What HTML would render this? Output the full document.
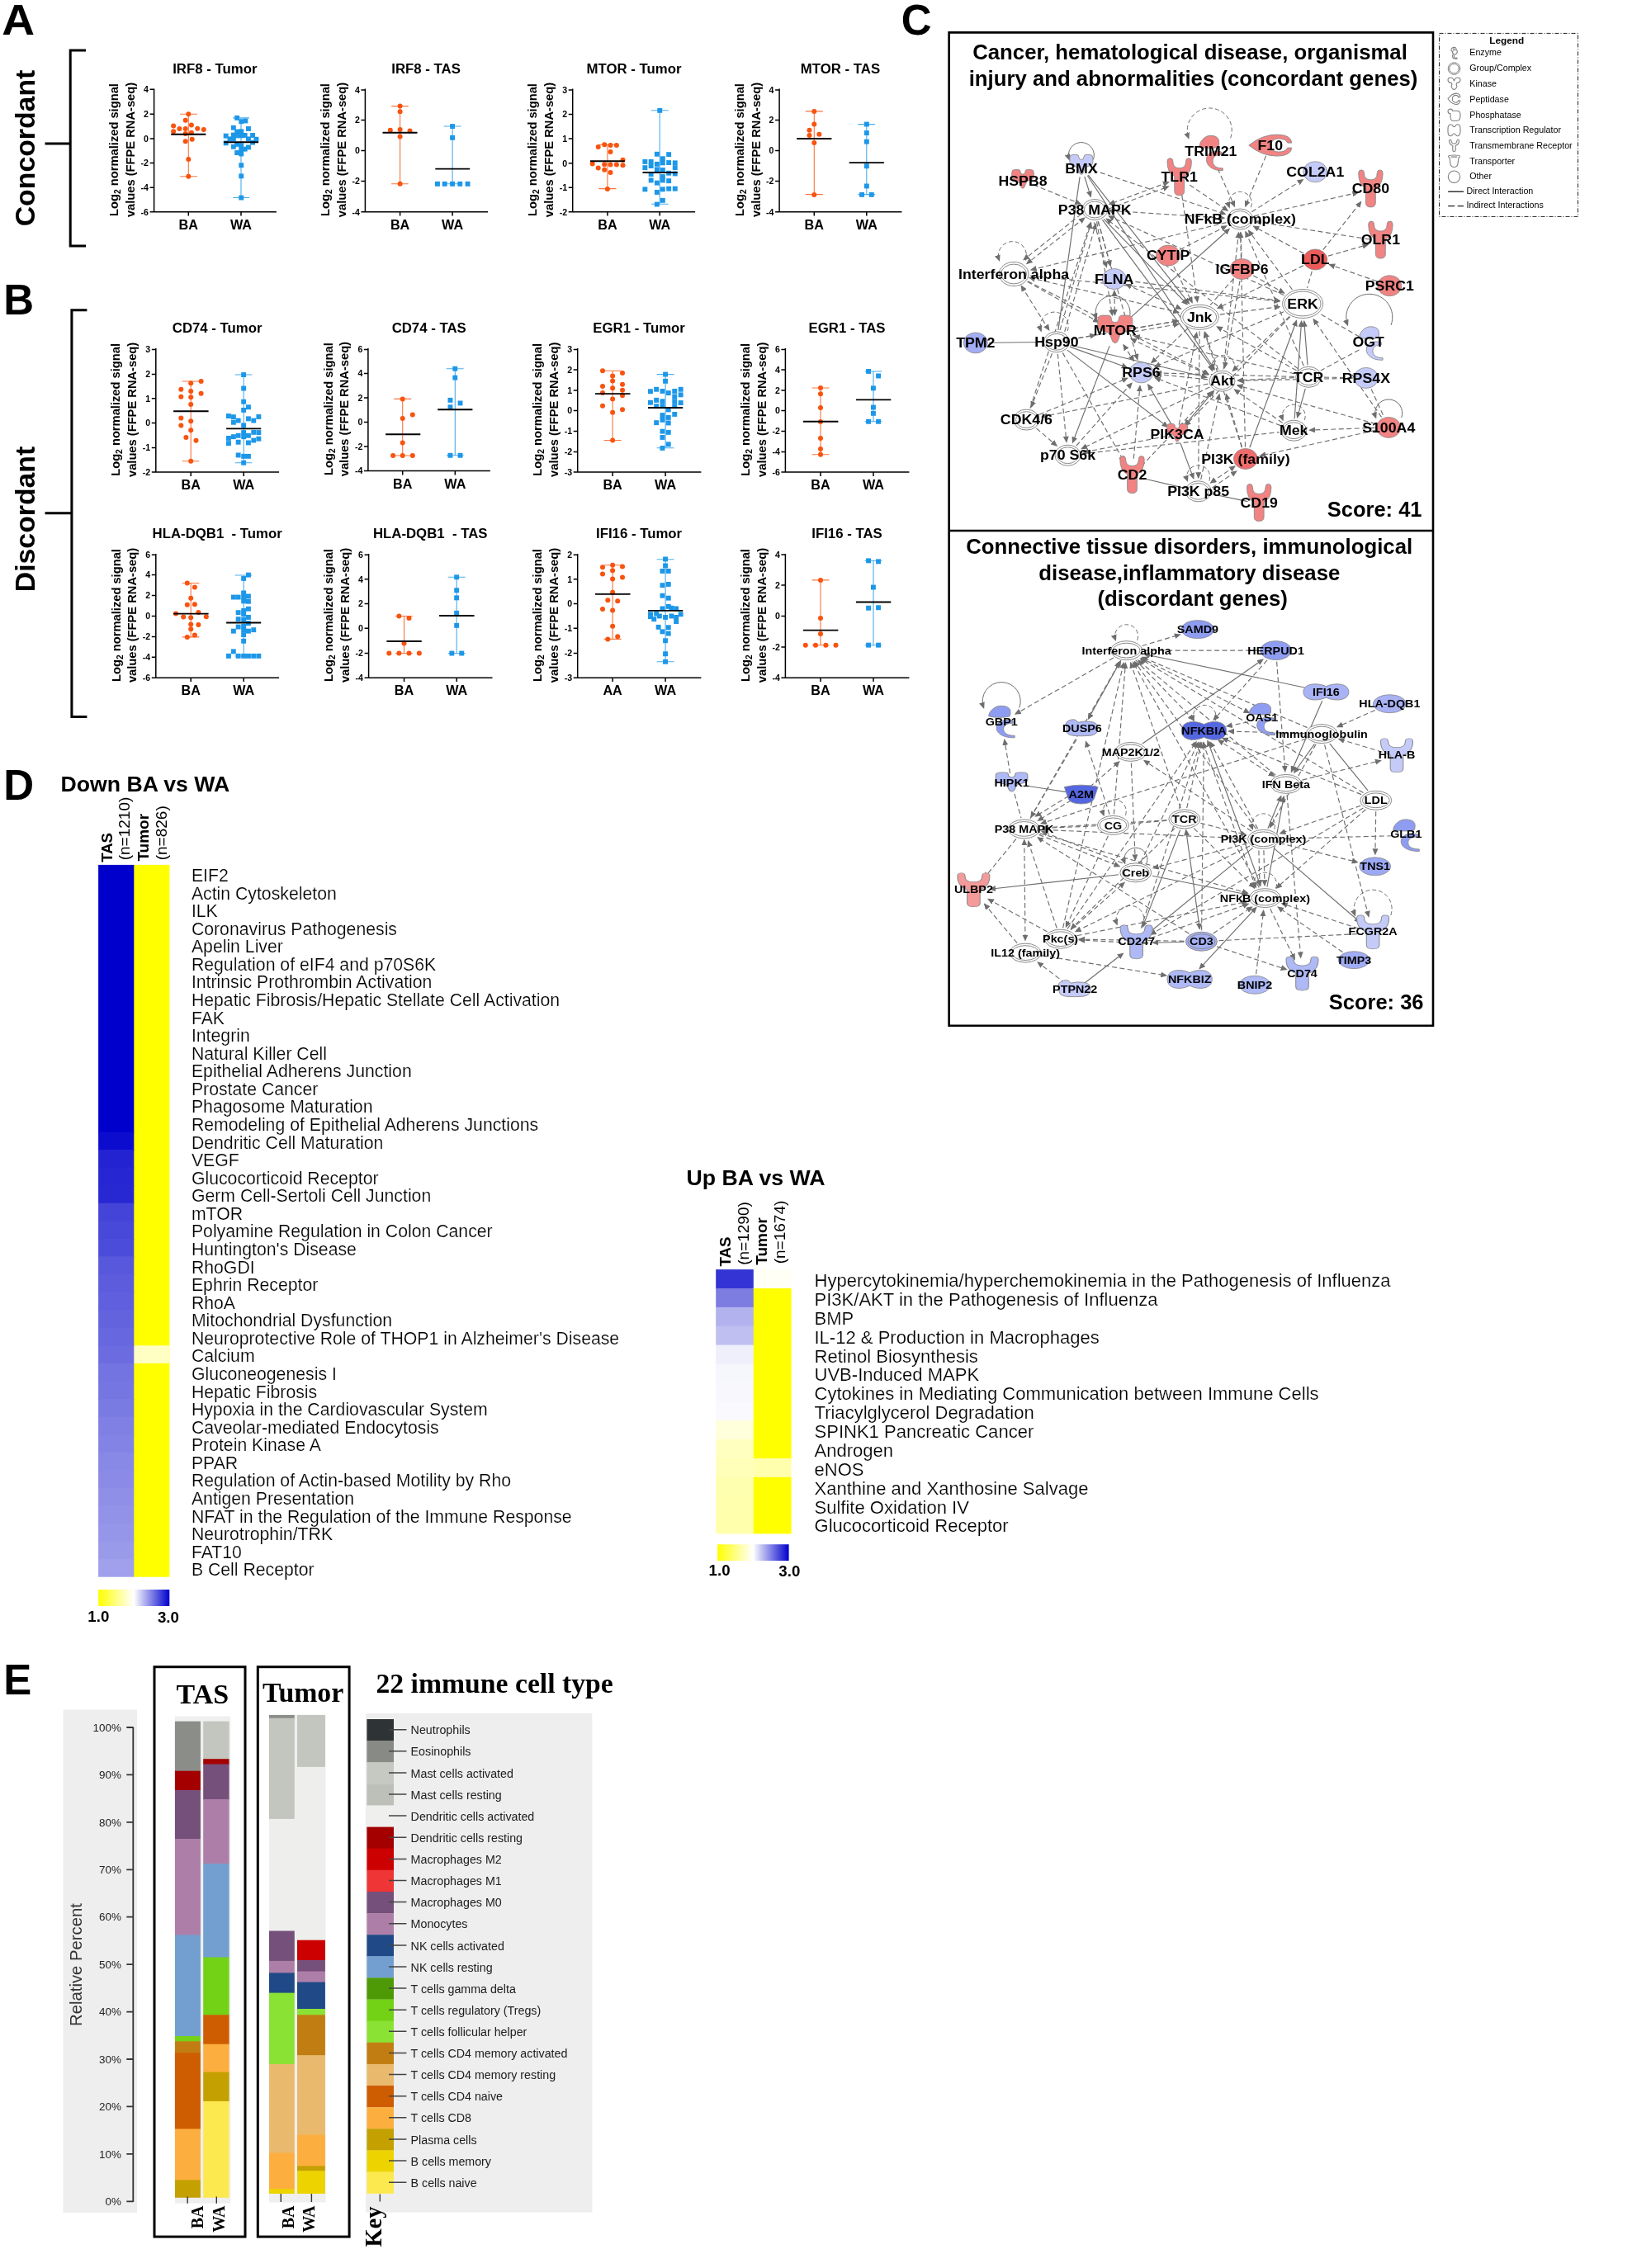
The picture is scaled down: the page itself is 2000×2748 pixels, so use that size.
<!DOCTYPE html>
<html lang="en"><head><meta charset="utf-8"><title>Figure</title>
<style>html,body{margin:0;padding:0;background:#fff}svg{display:block;will-change:transform}text{font-family:"Liberation Sans", Arial, Helvetica, sans-serif}text.sf{font-family:"Liberation Serif","Times New Roman",Times,serif}</style></head>
<body>
<svg width="2000" height="2748" viewBox="0 0 2000 2748">
<defs><linearGradient id="cb" x1="0" x2="1" y1="0" y2="0"><stop offset="0" stop-color="#FFFF00"/><stop offset="0.5" stop-color="#FFFFFF"/><stop offset="1" stop-color="#0000CD"/></linearGradient></defs>
<rect width="2000" height="2748" fill="#fff"/>
<g id="labels"><text transform="translate(2.2 41.8) scale(1.08 1.02)" font-size="51" font-weight="bold">A</text><text x="4.3" y="380.5" font-size="51" font-weight="bold">B</text><text x="1091.8" y="41.6" font-size="51" font-weight="bold">C</text><text x="4.3" y="968.7" font-size="51" font-weight="bold">D</text><text x="4.3" y="2052.9" font-size="51" font-weight="bold">E</text><path d="M104.1 61H85.2V298H104.1M54.5 174H85.2" fill="none" stroke="#000" stroke-width="3"/><path d="M105.4 375.8H86.9V868.6H105.4M54.5 621.8H86.9" fill="none" stroke="#000" stroke-width="3"/><text x="41.8" y="179.5" font-size="33.8" font-weight="bold" text-anchor="middle" transform="rotate(-90 41.8 179.5)">Concordant</text><text x="41.8" y="629" font-size="33.8" font-weight="bold" text-anchor="middle" transform="rotate(-90 41.8 629)">Discordant</text></g>
<g id="scatter"><text x="260.3" y="88.8" font-size="16.8" font-weight="bold" text-anchor="middle">IRF8 - Tumor</text><text x="143.3" y="181.5" font-size="14.7" font-weight="bold" text-anchor="middle" transform="rotate(-90 143.3 181.5)">Log<tspan font-size="10.3" dy="3">2</tspan><tspan dy="-3"> normalized signal</tspan></text><text x="163.2" y="181.5" font-size="14.7" font-weight="bold" text-anchor="middle" transform="rotate(-90 163.2 181.5)">values (FFPE RNA-seq)</text><g fill="#F8530F"><path d="M228.3 138.2V213.7M218.1 138.2H238.9M218.1 213.7H238.9" stroke="#F8530F" stroke-width="1.1" stroke-opacity="0.8" fill="none"/><circle cx="228.3" cy="138.2" r="3"/><circle cx="224.7" cy="145.8" r="3"/><circle cx="231.9" cy="151.6" r="3"/><circle cx="210.1" cy="152.6" r="3"/><circle cx="217.4" cy="155.9" r="3"/><circle cx="224.7" cy="155.9" r="3"/><circle cx="239.2" cy="155.7" r="3"/><circle cx="246.8" cy="157" r="3"/><circle cx="210.1" cy="159.3" r="3"/><circle cx="231.9" cy="160.7" r="3"/><circle cx="224.7" cy="162" r="3"/><circle cx="232.7" cy="168.7" r="3"/><circle cx="224.7" cy="171.2" r="3"/><circle cx="228.3" cy="193" r="3"/><circle cx="228.3" cy="213.7" r="3"/></g><path d="M207.2 162.8H249.4" stroke="#000" stroke-width="1.9"/><g fill="#1D97E8"><path d="M292 142.9V239.5M282.1 142.9H302M282.1 239.5H302" stroke="#1D97E8" stroke-width="1.1" stroke-opacity="0.8" fill="none"/><rect x="284.2" y="139.9" width="5.9" height="5.9"/><rect x="289.3" y="144.3" width="5.9" height="5.9"/><rect x="294.4" y="143.5" width="5.9" height="5.9"/><rect x="279.9" y="151.8" width="5.9" height="5.9"/><rect x="298" y="153" width="5.9" height="5.9"/><rect x="284.2" y="156.6" width="5.9" height="5.9"/><rect x="289.3" y="156.3" width="5.9" height="5.9"/><rect x="279.9" y="160.6" width="5.9" height="5.9"/><rect x="270.7" y="161.7" width="5.9" height="5.9"/><rect x="284.2" y="161.4" width="5.9" height="5.9"/><rect x="289.3" y="161.4" width="5.9" height="5.9"/><rect x="293.7" y="161" width="5.9" height="5.9"/><rect x="303.1" y="161" width="5.9" height="5.9"/><rect x="275.5" y="165.4" width="5.9" height="5.9"/><rect x="279.9" y="165.4" width="5.9" height="5.9"/><rect x="298" y="165.4" width="5.9" height="5.9"/><rect x="307.5" y="165.8" width="5.9" height="5.9"/><rect x="270.7" y="170.4" width="5.9" height="5.9"/><rect x="303.1" y="169.7" width="5.9" height="5.9"/><rect x="284.2" y="171.9" width="5.9" height="5.9"/><rect x="279.9" y="174.8" width="5.9" height="5.9"/><rect x="289.3" y="173.3" width="5.9" height="5.9"/><rect x="298" y="175.5" width="5.9" height="5.9"/><rect x="293.7" y="177.7" width="5.9" height="5.9"/><rect x="289.3" y="178.4" width="5.9" height="5.9"/><rect x="284.2" y="182.1" width="5.9" height="5.9"/><rect x="289.3" y="183.5" width="5.9" height="5.9"/><rect x="289.3" y="197.3" width="5.9" height="5.9"/><rect x="289.3" y="210.4" width="5.9" height="5.9"/><rect x="289.3" y="236.6" width="5.9" height="5.9"/></g><path d="M271.2 172.2H313.1" stroke="#000" stroke-width="1.9"/><path d="M186.6 107.6V256.7H334.9M181.6 108.3H186.6M181.6 138.2H186.6M181.6 167.9H186.6M181.6 197.5H186.6M181.6 227.2H186.6M181.6 256.7H186.6M228.3 256.7V261.5M292 256.7V261.5" stroke="#000" stroke-width="1.5" fill="none"/><text x="180" y="112.1" font-size="10.6" font-weight="bold" text-anchor="end">4</text><text x="180" y="142" font-size="10.6" font-weight="bold" text-anchor="end">2</text><text x="180" y="171.7" font-size="10.6" font-weight="bold" text-anchor="end">0</text><text x="180" y="201.3" font-size="10.6" font-weight="bold" text-anchor="end">-2</text><text x="180" y="231" font-size="10.6" font-weight="bold" text-anchor="end">-4</text><text x="180" y="260.5" font-size="10.6" font-weight="bold" text-anchor="end">-6</text><text x="228.3" y="277.7" font-size="16.2" font-weight="bold" text-anchor="middle">BA</text><text x="292" y="277.7" font-size="16.2" font-weight="bold" text-anchor="middle">WA</text>
<text x="516.1" y="88.8" font-size="16.8" font-weight="bold" text-anchor="middle">IRF8 - TAS</text><text x="399.1" y="181.5" font-size="14.7" font-weight="bold" text-anchor="middle" transform="rotate(-90 399.1 181.5)">Log<tspan font-size="10.3" dy="3">2</tspan><tspan dy="-3"> normalized signal</tspan></text><text x="419" y="181.5" font-size="14.7" font-weight="bold" text-anchor="middle" transform="rotate(-90 419 181.5)">values (FFPE RNA-seq)</text><g fill="#F8530F"><path d="M484.6 128.6V222.8M474.1 128.6H494.7M474.1 222.8H494.7" stroke="#F8530F" stroke-width="1.1" stroke-opacity="0.8" fill="none"/><circle cx="484.6" cy="128.6" r="3"/><circle cx="484.6" cy="135.3" r="3"/><circle cx="472.8" cy="157.7" r="3"/><circle cx="484.6" cy="157.1" r="3"/><circle cx="496.5" cy="158.6" r="3"/><circle cx="484.6" cy="165.4" r="3"/><circle cx="484.6" cy="222.8" r="3"/></g><path d="M463.5 160.7H505.5" stroke="#000" stroke-width="1.9"/><g fill="#1D97E8"><path d="M548.1 153V222.8M537.6 153H558.5M537.6 222.8H558.5" stroke="#1D97E8" stroke-width="1.1" stroke-opacity="0.8" fill="none"/><rect x="545.1" y="150.1" width="5.9" height="5.9"/><rect x="545.1" y="163.9" width="5.9" height="5.9"/><rect x="527" y="219.9" width="5.9" height="5.9"/><rect x="535.7" y="219.9" width="5.9" height="5.9"/><rect x="545.1" y="219.9" width="5.9" height="5.9"/><rect x="554.3" y="219.9" width="5.9" height="5.9"/><rect x="563.6" y="219.9" width="5.9" height="5.9"/></g><path d="M527.3 204.6H569.2" stroke="#000" stroke-width="1.9"/><path d="M442.4 107.6V256.7H591M437.4 109.1H442.4M437.4 145.5H442.4M437.4 182.5H442.4M437.4 219.6H442.4M437.4 256.7H442.4M484.6 256.7V261.5M548.1 256.7V261.5" stroke="#000" stroke-width="1.5" fill="none"/><text x="435.8" y="112.9" font-size="10.6" font-weight="bold" text-anchor="end">4</text><text x="435.8" y="149.3" font-size="10.6" font-weight="bold" text-anchor="end">2</text><text x="435.8" y="186.3" font-size="10.6" font-weight="bold" text-anchor="end">0</text><text x="435.8" y="223.4" font-size="10.6" font-weight="bold" text-anchor="end">-2</text><text x="435.8" y="260.5" font-size="10.6" font-weight="bold" text-anchor="end">-4</text><text x="484.6" y="277.7" font-size="16.2" font-weight="bold" text-anchor="middle">BA</text><text x="548.1" y="277.7" font-size="16.2" font-weight="bold" text-anchor="middle">WA</text>
<text x="768" y="88.8" font-size="16.8" font-weight="bold" text-anchor="middle">MTOR - Tumor</text><text x="650.4" y="181.5" font-size="14.7" font-weight="bold" text-anchor="middle" transform="rotate(-90 650.4 181.5)">Log<tspan font-size="10.3" dy="3">2</tspan><tspan dy="-3"> normalized signal</tspan></text><text x="670.3" y="181.5" font-size="14.7" font-weight="bold" text-anchor="middle" transform="rotate(-90 670.3 181.5)">values (FFPE RNA-seq)</text><g fill="#F8530F"><path d="M735.9 175.3V228.6M725.4 175.3H746.5M725.4 228.6H746.5" stroke="#F8530F" stroke-width="1.1" stroke-opacity="0.8" fill="none"/><circle cx="724.7" cy="178" r="3"/><circle cx="732.2" cy="175.3" r="3"/><circle cx="739.5" cy="176" r="3"/><circle cx="746.9" cy="175.9" r="3"/><circle cx="739.5" cy="184" r="3"/><circle cx="754.5" cy="193.7" r="3"/><circle cx="717.7" cy="198.5" r="3"/><circle cx="732.2" cy="199.3" r="3"/><circle cx="739.5" cy="199.6" r="3"/><circle cx="746.9" cy="199.6" r="3"/><circle cx="754.5" cy="200.3" r="3"/><circle cx="724.7" cy="203.5" r="3"/><circle cx="732.2" cy="205.8" r="3"/><circle cx="739.5" cy="209" r="3"/><circle cx="735.9" cy="228.9" r="3"/></g><path d="M714.9 195.2H756.9" stroke="#000" stroke-width="1.9"/><g fill="#1D97E8"><path d="M799.2 133.8V247.2M788.9 133.8H809.7M788.9 247.2H809.7" stroke="#1D97E8" stroke-width="1.1" stroke-opacity="0.8" fill="none"/><rect x="796.3" y="130.9" width="5.9" height="5.9"/><rect x="792.9" y="183.8" width="5.9" height="5.9"/><rect x="807.2" y="184.2" width="5.9" height="5.9"/><rect x="799.9" y="189.3" width="5.9" height="5.9"/><rect x="778.4" y="193" width="5.9" height="5.9"/><rect x="785.7" y="193" width="5.9" height="5.9"/><rect x="792.9" y="195.9" width="5.9" height="5.9"/><rect x="799.9" y="194.4" width="5.9" height="5.9"/><rect x="807.2" y="194.1" width="5.9" height="5.9"/><rect x="814.8" y="194.4" width="5.9" height="5.9"/><rect x="778.4" y="200.2" width="5.9" height="5.9"/><rect x="785.7" y="198.1" width="5.9" height="5.9"/><rect x="814.8" y="200.2" width="5.9" height="5.9"/><rect x="792.9" y="202.4" width="5.9" height="5.9"/><rect x="799.9" y="203.1" width="5.9" height="5.9"/><rect x="785.7" y="208.2" width="5.9" height="5.9"/><rect x="807.2" y="206.8" width="5.9" height="5.9"/><rect x="814.8" y="207.5" width="5.9" height="5.9"/><rect x="799.9" y="211.1" width="5.9" height="5.9"/><rect x="785.7" y="215.5" width="5.9" height="5.9"/><rect x="799.9" y="215.5" width="5.9" height="5.9"/><rect x="807.2" y="216.2" width="5.9" height="5.9"/><rect x="792.9" y="218.7" width="5.9" height="5.9"/><rect x="778.4" y="226.4" width="5.9" height="5.9"/><rect x="799.9" y="226.4" width="5.9" height="5.9"/><rect x="807.2" y="225.7" width="5.9" height="5.9"/><rect x="814.8" y="225.7" width="5.9" height="5.9"/><rect x="792.9" y="230" width="5.9" height="5.9"/><rect x="799.9" y="239.9" width="5.9" height="5.9"/><rect x="792.9" y="244.6" width="5.9" height="5.9"/></g><path d="M778.5 209H820.6" stroke="#000" stroke-width="1.9"/><path d="M693.7 107.6V256.7H842.1M688.7 109.1H693.7M688.7 138.5H693.7M688.7 168H693.7M688.7 197.7H693.7M688.7 227.2H693.7M688.7 256.7H693.7M735.9 256.7V261.5M799.2 256.7V261.5" stroke="#000" stroke-width="1.5" fill="none"/><text x="687.1" y="112.9" font-size="10.6" font-weight="bold" text-anchor="end">3</text><text x="687.1" y="142.3" font-size="10.6" font-weight="bold" text-anchor="end">2</text><text x="687.1" y="171.8" font-size="10.6" font-weight="bold" text-anchor="end">1</text><text x="687.1" y="201.5" font-size="10.6" font-weight="bold" text-anchor="end">0</text><text x="687.1" y="231" font-size="10.6" font-weight="bold" text-anchor="end">-1</text><text x="687.1" y="260.5" font-size="10.6" font-weight="bold" text-anchor="end">-2</text><text x="735.9" y="277.7" font-size="16.2" font-weight="bold" text-anchor="middle">BA</text><text x="799.2" y="277.7" font-size="16.2" font-weight="bold" text-anchor="middle">WA</text>
<text x="1018" y="88.8" font-size="16.8" font-weight="bold" text-anchor="middle">MTOR - TAS</text><text x="900.8" y="181.5" font-size="14.7" font-weight="bold" text-anchor="middle" transform="rotate(-90 900.8 181.5)">Log<tspan font-size="10.3" dy="3">2</tspan><tspan dy="-3"> normalized signal</tspan></text><text x="920.7" y="181.5" font-size="14.7" font-weight="bold" text-anchor="middle" transform="rotate(-90 920.7 181.5)">values (FFPE RNA-seq)</text><g fill="#F8530F"><path d="M986.3 134.9V235.6M975.8 134.9H996.8M975.8 235.6H996.8" stroke="#F8530F" stroke-width="1.1" stroke-opacity="0.8" fill="none"/><circle cx="986.3" cy="134.9" r="3"/><circle cx="986.3" cy="150.6" r="3"/><circle cx="980.5" cy="157.7" r="3"/><circle cx="980.5" cy="163.9" r="3"/><circle cx="992.4" cy="162.8" r="3"/><circle cx="986.3" cy="173.1" r="3"/><circle cx="986.3" cy="235.9" r="3"/></g><path d="M965.2 168H1007.4" stroke="#000" stroke-width="1.9"/><g fill="#1D97E8"><path d="M1049.8 150.6V235.6M1039.4 150.6H1060.1M1039.4 235.6H1060.1" stroke="#1D97E8" stroke-width="1.1" stroke-opacity="0.8" fill="none"/><rect x="1046.9" y="147.6" width="5.9" height="5.9"/><rect x="1046.9" y="158.1" width="5.9" height="5.9"/><rect x="1046.9" y="168.7" width="5.9" height="5.9"/><rect x="1046.9" y="198.3" width="5.9" height="5.9"/><rect x="1046.9" y="222.5" width="5.9" height="5.9"/><rect x="1041.1" y="232.9" width="5.9" height="5.9"/><rect x="1052.8" y="232.9" width="5.9" height="5.9"/></g><path d="M1028.7 197.1H1070.9" stroke="#000" stroke-width="1.9"/><path d="M944.1 107.6V256.7H1092.4M939.1 109.1H944.1M939.1 145.5H944.1M939.1 182.5H944.1M939.1 219.6H944.1M939.1 256.7H944.1M986.3 256.7V261.5M1049.8 256.7V261.5" stroke="#000" stroke-width="1.5" fill="none"/><text x="937.5" y="112.9" font-size="10.6" font-weight="bold" text-anchor="end">4</text><text x="937.5" y="149.3" font-size="10.6" font-weight="bold" text-anchor="end">2</text><text x="937.5" y="186.3" font-size="10.6" font-weight="bold" text-anchor="end">0</text><text x="937.5" y="223.4" font-size="10.6" font-weight="bold" text-anchor="end">-2</text><text x="937.5" y="260.5" font-size="10.6" font-weight="bold" text-anchor="end">-4</text><text x="986.3" y="277.7" font-size="16.2" font-weight="bold" text-anchor="middle">BA</text><text x="1049.8" y="277.7" font-size="16.2" font-weight="bold" text-anchor="middle">WA</text>
<text x="263.2" y="403.1" font-size="16.8" font-weight="bold" text-anchor="middle">CD74 - Tumor</text><text x="145.5" y="496.4" font-size="14.7" font-weight="bold" text-anchor="middle" transform="rotate(-90 145.5 496.4)">Log<tspan font-size="10.3" dy="3">2</tspan><tspan dy="-3"> normalized signal</tspan></text><text x="165.4" y="496.4" font-size="14.7" font-weight="bold" text-anchor="middle" transform="rotate(-90 165.4 496.4)">values (FFPE RNA-seq)</text><g fill="#F8530F"><path d="M231.2 462V558.7M220.7 462H241.4M220.7 558.7H241.4" stroke="#F8530F" stroke-width="1.1" stroke-opacity="0.8" fill="none"/><circle cx="243.6" cy="462" r="3"/><circle cx="231.2" cy="464.2" r="3"/><circle cx="219.3" cy="471.8" r="3"/><circle cx="231.2" cy="473.9" r="3"/><circle cx="243.6" cy="476.8" r="3"/><circle cx="219.3" cy="480.8" r="3"/><circle cx="231.2" cy="481.2" r="3"/><circle cx="231.2" cy="489.9" r="3"/><circle cx="219.3" cy="506.6" r="3"/><circle cx="231.2" cy="510.3" r="3"/><circle cx="219.3" cy="515.4" r="3"/><circle cx="231.2" cy="521.2" r="3"/><circle cx="225.4" cy="529.9" r="3"/><circle cx="237.5" cy="533.8" r="3"/><circle cx="231.2" cy="558.7" r="3"/></g><path d="M210.1 498.2H252.6" stroke="#000" stroke-width="1.9"/><g fill="#1D97E8"><path d="M295.2 454V560.7M284.6 454H305.3M284.6 560.7H305.3" stroke="#1D97E8" stroke-width="1.1" stroke-opacity="0.8" fill="none"/><rect x="292.2" y="451.1" width="5.9" height="5.9"/><rect x="292.2" y="467.6" width="5.9" height="5.9"/><rect x="292.2" y="483.8" width="5.9" height="5.9"/><rect x="298" y="490.3" width="5.9" height="5.9"/><rect x="292.2" y="494" width="5.9" height="5.9"/><rect x="274" y="501.1" width="5.9" height="5.9"/><rect x="279.9" y="502.2" width="5.9" height="5.9"/><rect x="310.4" y="502" width="5.9" height="5.9"/><rect x="285.7" y="506.6" width="5.9" height="5.9"/><rect x="298" y="504.4" width="5.9" height="5.9"/><rect x="304.3" y="506.6" width="5.9" height="5.9"/><rect x="279.9" y="508.8" width="5.9" height="5.9"/><rect x="292.2" y="512.4" width="5.9" height="5.9"/><rect x="292.2" y="521.1" width="5.9" height="5.9"/><rect x="304.3" y="520.9" width="5.9" height="5.9"/><rect x="310.4" y="521.1" width="5.9" height="5.9"/><rect x="285.7" y="524.8" width="5.9" height="5.9"/><rect x="298" y="524.8" width="5.9" height="5.9"/><rect x="274" y="528" width="5.9" height="5.9"/><rect x="279.9" y="526.2" width="5.9" height="5.9"/><rect x="292.2" y="526.2" width="5.9" height="5.9"/><rect x="310.4" y="528.7" width="5.9" height="5.9"/><rect x="304.3" y="530.6" width="5.9" height="5.9"/><rect x="285.7" y="532.8" width="5.9" height="5.9"/><rect x="298" y="533.5" width="5.9" height="5.9"/><rect x="274" y="534.2" width="5.9" height="5.9"/><rect x="285.7" y="548.5" width="5.9" height="5.9"/><rect x="292.2" y="549.9" width="5.9" height="5.9"/><rect x="298" y="549.9" width="5.9" height="5.9"/><rect x="292.2" y="557.8" width="5.9" height="5.9"/></g><path d="M274.1 519.4H316.2" stroke="#000" stroke-width="1.9"/><path d="M188.8 422.1V572.1H338.1M183.8 423.5H188.8M183.8 453.6H188.8M183.8 482.7H188.8M183.8 512.5H188.8M183.8 542.6H188.8M183.8 572.1H188.8M231.2 572.1V576.9M295.2 572.1V576.9" stroke="#000" stroke-width="1.5" fill="none"/><text x="182.2" y="427.3" font-size="10.6" font-weight="bold" text-anchor="end">3</text><text x="182.2" y="457.4" font-size="10.6" font-weight="bold" text-anchor="end">2</text><text x="182.2" y="486.5" font-size="10.6" font-weight="bold" text-anchor="end">1</text><text x="182.2" y="516.3" font-size="10.6" font-weight="bold" text-anchor="end">0</text><text x="182.2" y="546.4" font-size="10.6" font-weight="bold" text-anchor="end">-1</text><text x="182.2" y="575.9" font-size="10.6" font-weight="bold" text-anchor="end">-2</text><text x="231.2" y="593.1" font-size="16.2" font-weight="bold" text-anchor="middle">BA</text><text x="295.2" y="593.1" font-size="16.2" font-weight="bold" text-anchor="middle">WA</text>
<text x="519.7" y="402.7" font-size="16.8" font-weight="bold" text-anchor="middle">CD74 - TAS</text><text x="402.6" y="495.6" font-size="14.7" font-weight="bold" text-anchor="middle" transform="rotate(-90 402.6 495.6)">Log<tspan font-size="10.3" dy="3">2</tspan><tspan dy="-3"> normalized signal</tspan></text><text x="422.5" y="495.6" font-size="14.7" font-weight="bold" text-anchor="middle" transform="rotate(-90 422.5 495.6)">values (FFPE RNA-seq)</text><g fill="#F8530F"><path d="M487.7 483.4V552M477.3 483.4H498.2M477.3 552H498.2" stroke="#F8530F" stroke-width="1.1" stroke-opacity="0.8" fill="none"/><circle cx="487.7" cy="483.4" r="3"/><circle cx="499.8" cy="502.6" r="3"/><circle cx="487.7" cy="506.9" r="3"/><circle cx="487.7" cy="536.4" r="3"/><circle cx="476.1" cy="552" r="3"/><circle cx="487.7" cy="552" r="3"/><circle cx="499.8" cy="552" r="3"/></g><path d="M467.1 526.3H509.3" stroke="#000" stroke-width="1.9"/><g fill="#1D97E8"><path d="M551.3 446.8V551.7M540.8 446.8H561.6M540.8 551.7H561.6" stroke="#1D97E8" stroke-width="1.1" stroke-opacity="0.8" fill="none"/><rect x="548.3" y="443.8" width="5.9" height="5.9"/><rect x="548.3" y="454.7" width="5.9" height="5.9"/><rect x="542.5" y="481.9" width="5.9" height="5.9"/><rect x="554.6" y="485.5" width="5.9" height="5.9"/><rect x="542.5" y="490.3" width="5.9" height="5.9"/><rect x="542.5" y="548.8" width="5.9" height="5.9"/><rect x="554.6" y="548.8" width="5.9" height="5.9"/></g><path d="M530.2 496.2H572.4" stroke="#000" stroke-width="1.9"/><path d="M445.9 421.9V570.6H593.9M440.9 423.4H445.9M440.9 452.6H445.9M440.9 481.9H445.9M440.9 511.4H445.9M440.9 541.1H445.9M440.9 570.6H445.9M487.7 570.6V575.4M551.3 570.6V575.4" stroke="#000" stroke-width="1.5" fill="none"/><text x="439.3" y="427.2" font-size="10.6" font-weight="bold" text-anchor="end">6</text><text x="439.3" y="456.4" font-size="10.6" font-weight="bold" text-anchor="end">4</text><text x="439.3" y="485.7" font-size="10.6" font-weight="bold" text-anchor="end">2</text><text x="439.3" y="515.2" font-size="10.6" font-weight="bold" text-anchor="end">0</text><text x="439.3" y="544.9" font-size="10.6" font-weight="bold" text-anchor="end">-2</text><text x="439.3" y="574.4" font-size="10.6" font-weight="bold" text-anchor="end">-4</text><text x="487.7" y="591.6" font-size="16.2" font-weight="bold" text-anchor="middle">BA</text><text x="551.3" y="591.6" font-size="16.2" font-weight="bold" text-anchor="middle">WA</text>
<text x="774.1" y="402.7" font-size="16.8" font-weight="bold" text-anchor="middle">EGR1 - Tumor</text><text x="656.4" y="496.3" font-size="14.7" font-weight="bold" text-anchor="middle" transform="rotate(-90 656.4 496.3)">Log<tspan font-size="10.3" dy="3">2</tspan><tspan dy="-3"> normalized signal</tspan></text><text x="676.3" y="496.3" font-size="14.7" font-weight="bold" text-anchor="middle" transform="rotate(-90 676.3 496.3)">values (FFPE RNA-seq)</text><g fill="#F8530F"><path d="M742.1 449.2V533.5M731.6 449.2H752.6M731.6 533.5H752.6" stroke="#F8530F" stroke-width="1.1" stroke-opacity="0.8" fill="none"/><circle cx="730" cy="449.2" r="3"/><circle cx="754" cy="452.1" r="3"/><circle cx="742.1" cy="455.5" r="3"/><circle cx="742.1" cy="461.6" r="3"/><circle cx="754" cy="465.7" r="3"/><circle cx="730" cy="468.1" r="3"/><circle cx="742.1" cy="470.3" r="3"/><circle cx="754" cy="472.8" r="3"/><circle cx="730" cy="476.1" r="3"/><circle cx="754" cy="479.3" r="3"/><circle cx="742.1" cy="483.4" r="3"/><circle cx="730" cy="491.8" r="3"/><circle cx="754" cy="496.2" r="3"/><circle cx="742.1" cy="499.8" r="3"/><circle cx="742.1" cy="533.5" r="3"/></g><path d="M721 477.1H763.5" stroke="#000" stroke-width="1.9"/><g fill="#1D97E8"><path d="M806.1 453.6V542.7M795.6 453.6H816.5M795.6 542.7H816.5" stroke="#1D97E8" stroke-width="1.1" stroke-opacity="0.8" fill="none"/><rect x="803.1" y="450.6" width="5.9" height="5.9"/><rect x="803.1" y="458.9" width="5.9" height="5.9"/><rect x="792.2" y="468.8" width="5.9" height="5.9"/><rect x="821.7" y="468.8" width="5.9" height="5.9"/><rect x="785" y="471.3" width="5.9" height="5.9"/><rect x="799.5" y="471" width="5.9" height="5.9"/><rect x="814.3" y="471" width="5.9" height="5.9"/><rect x="806.8" y="473.2" width="5.9" height="5.9"/><rect x="821.7" y="475.4" width="5.9" height="5.9"/><rect x="814.3" y="477.5" width="5.9" height="5.9"/><rect x="792.2" y="481.9" width="5.9" height="5.9"/><rect x="799.5" y="483.3" width="5.9" height="5.9"/><rect x="814.3" y="483.3" width="5.9" height="5.9"/><rect x="785" y="484.8" width="5.9" height="5.9"/><rect x="821.7" y="485.1" width="5.9" height="5.9"/><rect x="792.2" y="489.2" width="5.9" height="5.9"/><rect x="799.5" y="489.2" width="5.9" height="5.9"/><rect x="814.3" y="489.2" width="5.9" height="5.9"/><rect x="806.8" y="493.5" width="5.9" height="5.9"/><rect x="814.3" y="499" width="5.9" height="5.9"/><rect x="799.5" y="500.1" width="5.9" height="5.9"/><rect x="806.8" y="503" width="5.9" height="5.9"/><rect x="799.5" y="505.9" width="5.9" height="5.9"/><rect x="792.2" y="509.2" width="5.9" height="5.9"/><rect x="806.8" y="509.5" width="5.9" height="5.9"/><rect x="799.5" y="519.7" width="5.9" height="5.9"/><rect x="806.8" y="520.9" width="5.9" height="5.9"/><rect x="799.5" y="527" width="5.9" height="5.9"/><rect x="806.8" y="535.4" width="5.9" height="5.9"/><rect x="799.5" y="540" width="5.9" height="5.9"/></g><path d="M785 494H827.2" stroke="#000" stroke-width="1.9"/><path d="M699.7 421.9V572.1H849.4M694.7 423.4H699.7M694.7 448.1H699.7M694.7 472.9H699.7M694.7 497.6H699.7M694.7 522.6H699.7M694.7 547.4H699.7M694.7 572.1H699.7M742.1 572.1V576.9M806.1 572.1V576.9" stroke="#000" stroke-width="1.5" fill="none"/><text x="693.1" y="427.2" font-size="10.6" font-weight="bold" text-anchor="end">3</text><text x="693.1" y="451.9" font-size="10.6" font-weight="bold" text-anchor="end">2</text><text x="693.1" y="476.7" font-size="10.6" font-weight="bold" text-anchor="end">1</text><text x="693.1" y="501.4" font-size="10.6" font-weight="bold" text-anchor="end">0</text><text x="693.1" y="526.4" font-size="10.6" font-weight="bold" text-anchor="end">-1</text><text x="693.1" y="551.2" font-size="10.6" font-weight="bold" text-anchor="end">-2</text><text x="693.1" y="575.9" font-size="10.6" font-weight="bold" text-anchor="end">-3</text><text x="742.1" y="593.1" font-size="16.2" font-weight="bold" text-anchor="middle">BA</text><text x="806.1" y="593.1" font-size="16.2" font-weight="bold" text-anchor="middle">WA</text>
<text x="1026" y="402.7" font-size="16.8" font-weight="bold" text-anchor="middle">EGR1 - TAS</text><text x="908.1" y="496.3" font-size="14.7" font-weight="bold" text-anchor="middle" transform="rotate(-90 908.1 496.3)">Log<tspan font-size="10.3" dy="3">2</tspan><tspan dy="-3"> normalized signal</tspan></text><text x="928" y="496.3" font-size="14.7" font-weight="bold" text-anchor="middle" transform="rotate(-90 928 496.3)">values (FFPE RNA-seq)</text><g fill="#F8530F"><path d="M994 470V550.7M983.7 470H1004.5M983.7 550.7H1004.5" stroke="#F8530F" stroke-width="1.1" stroke-opacity="0.8" fill="none"/><circle cx="994" cy="470" r="3"/><circle cx="994" cy="477.3" r="3"/><circle cx="994" cy="494" r="3"/><circle cx="994" cy="511" r="3"/><circle cx="994" cy="531.1" r="3"/><circle cx="994" cy="544" r="3"/><circle cx="994" cy="550.7" r="3"/></g><path d="M972.9 510.7H1015.4" stroke="#000" stroke-width="1.9"/><g fill="#1D97E8"><path d="M1058 450V510.7M1047.6 450H1068.4M1047.6 510.7H1068.4" stroke="#1D97E8" stroke-width="1.1" stroke-opacity="0.8" fill="none"/><rect x="1049.1" y="447" width="5.9" height="5.9"/><rect x="1061.1" y="452.5" width="5.9" height="5.9"/><rect x="1055" y="467.4" width="5.9" height="5.9"/><rect x="1055" y="490.6" width="5.9" height="5.9"/><rect x="1055" y="497.9" width="5.9" height="5.9"/><rect x="1049.1" y="507.8" width="5.9" height="5.9"/><rect x="1061.1" y="507.8" width="5.9" height="5.9"/></g><path d="M1036.9 484.4H1079.3" stroke="#000" stroke-width="1.9"/><path d="M951.4 421.9V572.1H1101.4M946.4 423.4H951.4M946.4 448.1H951.4M946.4 472.9H951.4M946.4 497.6H951.4M946.4 522.6H951.4M946.4 547.4H951.4M946.4 572.1H951.4M994 572.1V576.9M1058 572.1V576.9" stroke="#000" stroke-width="1.5" fill="none"/><text x="944.8" y="427.2" font-size="10.6" font-weight="bold" text-anchor="end">6</text><text x="944.8" y="451.9" font-size="10.6" font-weight="bold" text-anchor="end">4</text><text x="944.8" y="476.7" font-size="10.6" font-weight="bold" text-anchor="end">2</text><text x="944.8" y="501.4" font-size="10.6" font-weight="bold" text-anchor="end">0</text><text x="944.8" y="526.4" font-size="10.6" font-weight="bold" text-anchor="end">-2</text><text x="944.8" y="551.2" font-size="10.6" font-weight="bold" text-anchor="end">-4</text><text x="944.8" y="575.9" font-size="10.6" font-weight="bold" text-anchor="end">-6</text><text x="994" y="593.1" font-size="16.2" font-weight="bold" text-anchor="middle">BA</text><text x="1058" y="593.1" font-size="16.2" font-weight="bold" text-anchor="middle">WA</text>
<text x="263.2" y="652" font-size="16.8" font-weight="bold" text-anchor="middle">HLA-DQB1  - Tumor</text><text x="145.5" y="745.5" font-size="14.7" font-weight="bold" text-anchor="middle" transform="rotate(-90 145.5 745.5)">Log<tspan font-size="10.3" dy="3">2</tspan><tspan dy="-3"> normalized signal</tspan></text><text x="165.4" y="745.5" font-size="14.7" font-weight="bold" text-anchor="middle" transform="rotate(-90 165.4 745.5)">values (FFPE RNA-seq)</text><g fill="#F8530F"><path d="M231.2 706.5V771.9M220.7 706.5H241.4M220.7 771.9H241.4" stroke="#F8530F" stroke-width="1.1" stroke-opacity="0.8" fill="none"/><circle cx="226.8" cy="706.5" r="3"/><circle cx="235.9" cy="711.6" r="3"/><circle cx="231.2" cy="724.7" r="3"/><circle cx="226.8" cy="732.7" r="3"/><circle cx="235.9" cy="732.2" r="3"/><circle cx="213" cy="743.6" r="3"/><circle cx="240.4" cy="742.1" r="3"/><circle cx="222.2" cy="747.5" r="3"/><circle cx="231.2" cy="748.2" r="3"/><circle cx="249.8" cy="747.2" r="3"/><circle cx="231.2" cy="756.6" r="3"/><circle cx="240.4" cy="756.9" r="3"/><circle cx="231.2" cy="762.2" r="3"/><circle cx="235.9" cy="769.4" r="3"/><circle cx="226.8" cy="771.9" r="3"/></g><path d="M210.1 743.6H252.6" stroke="#000" stroke-width="1.9"/><g fill="#1D97E8"><path d="M295.2 697V794.9M284.6 697H305.3M284.6 794.9H305.3" stroke="#1D97E8" stroke-width="1.1" stroke-opacity="0.8" fill="none"/><rect x="298" y="693.7" width="5.9" height="5.9"/><rect x="292.2" y="698" width="5.9" height="5.9"/><rect x="292.2" y="715.5" width="5.9" height="5.9"/><rect x="279.9" y="720.6" width="5.9" height="5.9"/><rect x="285.7" y="720.6" width="5.9" height="5.9"/><rect x="292.2" y="720.6" width="5.9" height="5.9"/><rect x="298" y="719.5" width="5.9" height="5.9"/><rect x="292.2" y="725.4" width="5.9" height="5.9"/><rect x="298" y="725.8" width="5.9" height="5.9"/><rect x="298" y="734.8" width="5.9" height="5.9"/><rect x="285.7" y="739.2" width="5.9" height="5.9"/><rect x="292.2" y="737" width="5.9" height="5.9"/><rect x="292.2" y="741.3" width="5.9" height="5.9"/><rect x="298" y="745" width="5.9" height="5.9"/><rect x="285.7" y="747.2" width="5.9" height="5.9"/><rect x="292.2" y="747.9" width="5.9" height="5.9"/><rect x="298" y="752.2" width="5.9" height="5.9"/><rect x="285.7" y="756.6" width="5.9" height="5.9"/><rect x="292.2" y="755.9" width="5.9" height="5.9"/><rect x="279.9" y="761.7" width="5.9" height="5.9"/><rect x="292.2" y="760.2" width="5.9" height="5.9"/><rect x="298" y="761.7" width="5.9" height="5.9"/><rect x="304.3" y="760.2" width="5.9" height="5.9"/><rect x="292.2" y="766.1" width="5.9" height="5.9"/><rect x="292.2" y="773.8" width="5.9" height="5.9"/><rect x="279.9" y="786.4" width="5.9" height="5.9"/><rect x="274" y="791.9" width="5.9" height="5.9"/><rect x="285.7" y="791.9" width="5.9" height="5.9"/><rect x="292.2" y="791.9" width="5.9" height="5.9"/><rect x="298" y="791.9" width="5.9" height="5.9"/><rect x="304.3" y="791.9" width="5.9" height="5.9"/><rect x="310.4" y="791.9" width="5.9" height="5.9"/></g><path d="M274.1 754.5H316.2" stroke="#000" stroke-width="1.9"/><path d="M188.8 670.9V821.3H338.1M183.8 672.3H188.8M183.8 696.6H188.8M183.8 721.5H188.8M183.8 746.5H188.8M183.8 771.5H188.8M183.8 796.3H188.8M183.8 821.3H188.8M231.2 821.3V826.1M295.2 821.3V826.1" stroke="#000" stroke-width="1.5" fill="none"/><text x="182.2" y="676.1" font-size="10.6" font-weight="bold" text-anchor="end">6</text><text x="182.2" y="700.4" font-size="10.6" font-weight="bold" text-anchor="end">4</text><text x="182.2" y="725.3" font-size="10.6" font-weight="bold" text-anchor="end">2</text><text x="182.2" y="750.3" font-size="10.6" font-weight="bold" text-anchor="end">0</text><text x="182.2" y="775.3" font-size="10.6" font-weight="bold" text-anchor="end">-2</text><text x="182.2" y="800.1" font-size="10.6" font-weight="bold" text-anchor="end">-4</text><text x="182.2" y="825.1" font-size="10.6" font-weight="bold" text-anchor="end">-6</text><text x="231.2" y="842.3" font-size="16.2" font-weight="bold" text-anchor="middle">BA</text><text x="295.2" y="842.3" font-size="16.2" font-weight="bold" text-anchor="middle">WA</text>
<text x="521.2" y="652" font-size="16.8" font-weight="bold" text-anchor="middle">HLA-DQB1  - TAS</text><text x="403.3" y="745.5" font-size="14.7" font-weight="bold" text-anchor="middle" transform="rotate(-90 403.3 745.5)">Log<tspan font-size="10.3" dy="3">2</tspan><tspan dy="-3"> normalized signal</tspan></text><text x="423.2" y="745.5" font-size="14.7" font-weight="bold" text-anchor="middle" transform="rotate(-90 423.2 745.5)">values (FFPE RNA-seq)</text><g fill="#F8530F"><path d="M489.5 746.5V791.5M479 746.5H499.8M479 791.5H499.8" stroke="#F8530F" stroke-width="1.1" stroke-opacity="0.8" fill="none"/><circle cx="483.4" cy="746.5" r="3"/><circle cx="495.5" cy="748.9" r="3"/><circle cx="489.5" cy="779.5" r="3"/><circle cx="471.3" cy="791.5" r="3"/><circle cx="483.4" cy="791.5" r="3"/><circle cx="495.5" cy="791.5" r="3"/><circle cx="507.8" cy="791.5" r="3"/></g><path d="M468.4 777H510.7" stroke="#000" stroke-width="1.9"/><g fill="#1D97E8"><path d="M553.2 699.2V791.5M542.7 699.2H563.6M542.7 791.5H563.6" stroke="#1D97E8" stroke-width="1.1" stroke-opacity="0.8" fill="none"/><rect x="550.2" y="696.3" width="5.9" height="5.9"/><rect x="550.2" y="712.3" width="5.9" height="5.9"/><rect x="550.2" y="721.4" width="5.9" height="5.9"/><rect x="550.2" y="739.9" width="5.9" height="5.9"/><rect x="550.2" y="754.9" width="5.9" height="5.9"/><rect x="544.4" y="788.6" width="5.9" height="5.9"/><rect x="556.3" y="788.6" width="5.9" height="5.9"/></g><path d="M532.1 746H574.5" stroke="#000" stroke-width="1.9"/><path d="M446.6 670.9V821.3H596.5M441.6 672.3H446.6M441.6 701.8H446.6M441.6 731.6H446.6M441.6 761.3H446.6M441.6 791.5H446.6M441.6 821.3H446.6M489.5 821.3V826.1M553.2 821.3V826.1" stroke="#000" stroke-width="1.5" fill="none"/><text x="440" y="676.1" font-size="10.6" font-weight="bold" text-anchor="end">6</text><text x="440" y="705.6" font-size="10.6" font-weight="bold" text-anchor="end">4</text><text x="440" y="735.4" font-size="10.6" font-weight="bold" text-anchor="end">2</text><text x="440" y="765.1" font-size="10.6" font-weight="bold" text-anchor="end">0</text><text x="440" y="795.3" font-size="10.6" font-weight="bold" text-anchor="end">-2</text><text x="440" y="825.1" font-size="10.6" font-weight="bold" text-anchor="end">-4</text><text x="489.5" y="842.3" font-size="16.2" font-weight="bold" text-anchor="middle">BA</text><text x="553.2" y="842.3" font-size="16.2" font-weight="bold" text-anchor="middle">WA</text>
<text x="774.1" y="652" font-size="16.8" font-weight="bold" text-anchor="middle">IFI16 - Tumor</text><text x="656.4" y="745.5" font-size="14.7" font-weight="bold" text-anchor="middle" transform="rotate(-90 656.4 745.5)">Log<tspan font-size="10.3" dy="3">2</tspan><tspan dy="-3"> normalized signal</tspan></text><text x="676.3" y="745.5" font-size="14.7" font-weight="bold" text-anchor="middle" transform="rotate(-90 676.3 745.5)">values (FFPE RNA-seq)</text><g fill="#F8530F"><path d="M742.1 684.7V774.4M731.6 684.7H752.6M731.6 774.4H752.6" stroke="#F8530F" stroke-width="1.1" stroke-opacity="0.8" fill="none"/><circle cx="742.1" cy="684.7" r="3"/><circle cx="730" cy="687.2" r="3"/><circle cx="754" cy="686.4" r="3"/><circle cx="742.1" cy="691.2" r="3"/><circle cx="730" cy="695.6" r="3"/><circle cx="754" cy="699.5" r="3"/><circle cx="742.1" cy="701.4" r="3"/><circle cx="742.1" cy="717.7" r="3"/><circle cx="736.3" cy="727.3" r="3"/><circle cx="748.2" cy="728.3" r="3"/><circle cx="730" cy="738" r="3"/><circle cx="742.1" cy="739.6" r="3"/><circle cx="742.1" cy="758.8" r="3"/><circle cx="748.2" cy="771.2" r="3"/><circle cx="736.3" cy="774.4" r="3"/></g><path d="M721 719.9H763.5" stroke="#000" stroke-width="1.9"/><g fill="#1D97E8"><path d="M806.1 677.7V801.7M795.6 677.7H816.5M795.6 801.7H816.5" stroke="#1D97E8" stroke-width="1.1" stroke-opacity="0.8" fill="none"/><rect x="803.1" y="674.5" width="5.9" height="5.9"/><rect x="803.1" y="682.5" width="5.9" height="5.9"/><rect x="799.5" y="689" width="5.9" height="5.9"/><rect x="806.8" y="689" width="5.9" height="5.9"/><rect x="799.5" y="706.2" width="5.9" height="5.9"/><rect x="806.8" y="705" width="5.9" height="5.9"/><rect x="799.5" y="718.8" width="5.9" height="5.9"/><rect x="806.8" y="721.7" width="5.9" height="5.9"/><rect x="806.8" y="731.9" width="5.9" height="5.9"/><rect x="799.5" y="734.5" width="5.9" height="5.9"/><rect x="810.4" y="733.8" width="5.9" height="5.9"/><rect x="816.2" y="734.5" width="5.9" height="5.9"/><rect x="785" y="741.3" width="5.9" height="5.9"/><rect x="792.2" y="740.6" width="5.9" height="5.9"/><rect x="821.7" y="741.3" width="5.9" height="5.9"/><rect x="785" y="744.2" width="5.9" height="5.9"/><rect x="795.9" y="743.5" width="5.9" height="5.9"/><rect x="803.1" y="745" width="5.9" height="5.9"/><rect x="810.4" y="743.5" width="5.9" height="5.9"/><rect x="789.3" y="747.2" width="5.9" height="5.9"/><rect x="816.2" y="745" width="5.9" height="5.9"/><rect x="816.2" y="750.1" width="5.9" height="5.9"/><rect x="794.7" y="756.9" width="5.9" height="5.9"/><rect x="806.8" y="757.3" width="5.9" height="5.9"/><rect x="799.5" y="762.4" width="5.9" height="5.9"/><rect x="806.8" y="764.6" width="5.9" height="5.9"/><rect x="803.1" y="773.3" width="5.9" height="5.9"/><rect x="803.1" y="789.3" width="5.9" height="5.9"/><rect x="803.1" y="798.8" width="5.9" height="5.9"/></g><path d="M785 739.9H827.2" stroke="#000" stroke-width="1.9"/><path d="M699.7 670.9V821.3H849.4M694.7 672.3H699.7M694.7 701.8H699.7M694.7 731.6H699.7M694.7 761.3H699.7M694.7 791.5H699.7M694.7 821.3H699.7M742.1 821.3V826.1M806.1 821.3V826.1" stroke="#000" stroke-width="1.5" fill="none"/><text x="693.1" y="676.1" font-size="10.6" font-weight="bold" text-anchor="end">2</text><text x="693.1" y="705.6" font-size="10.6" font-weight="bold" text-anchor="end">1</text><text x="693.1" y="735.4" font-size="10.6" font-weight="bold" text-anchor="end">0</text><text x="693.1" y="765.1" font-size="10.6" font-weight="bold" text-anchor="end">-1</text><text x="693.1" y="795.3" font-size="10.6" font-weight="bold" text-anchor="end">-2</text><text x="693.1" y="825.1" font-size="10.6" font-weight="bold" text-anchor="end">-3</text><text x="742.1" y="842.3" font-size="16.2" font-weight="bold" text-anchor="middle">AA</text><text x="806.1" y="842.3" font-size="16.2" font-weight="bold" text-anchor="middle">WA</text>
<text x="1026" y="652" font-size="16.8" font-weight="bold" text-anchor="middle">IFI16 - TAS</text><text x="908.1" y="745.5" font-size="14.7" font-weight="bold" text-anchor="middle" transform="rotate(-90 908.1 745.5)">Log<tspan font-size="10.3" dy="3">2</tspan><tspan dy="-3"> normalized signal</tspan></text><text x="928" y="745.5" font-size="14.7" font-weight="bold" text-anchor="middle" transform="rotate(-90 928 745.5)">values (FFPE RNA-seq)</text><g fill="#F8530F"><path d="M994 702.9V781.7M983.7 702.9H1004.5M983.7 781.7H1004.5" stroke="#F8530F" stroke-width="1.1" stroke-opacity="0.8" fill="none"/><circle cx="994" cy="702.9" r="3"/><circle cx="994" cy="749.1" r="3"/><circle cx="994" cy="768" r="3"/><circle cx="975.8" cy="781.7" r="3"/><circle cx="988" cy="781.7" r="3"/><circle cx="1000.4" cy="781.7" r="3"/><circle cx="1012.5" cy="781.7" r="3"/></g><path d="M972.9 763.6H1015.4" stroke="#000" stroke-width="1.9"/><g fill="#1D97E8"><path d="M1058 679.3V781.7M1047.6 679.3H1068.4M1047.6 781.7H1068.4" stroke="#1D97E8" stroke-width="1.1" stroke-opacity="0.8" fill="none"/><rect x="1049.1" y="676.4" width="5.9" height="5.9"/><rect x="1061.1" y="677.4" width="5.9" height="5.9"/><rect x="1055" y="708.6" width="5.9" height="5.9"/><rect x="1049.1" y="733.8" width="5.9" height="5.9"/><rect x="1061.1" y="733.3" width="5.9" height="5.9"/><rect x="1049.1" y="778.7" width="5.9" height="5.9"/><rect x="1061.1" y="778.7" width="5.9" height="5.9"/></g><path d="M1036.9 729.5H1079.3" stroke="#000" stroke-width="1.9"/><path d="M951.4 670.9V821.3H1101.4M946.4 672H951.4M946.4 709.1H951.4M946.4 746.5H951.4M946.4 784H951.4M946.4 821.3H951.4M994 821.3V826.1M1058 821.3V826.1" stroke="#000" stroke-width="1.5" fill="none"/><text x="944.8" y="675.8" font-size="10.6" font-weight="bold" text-anchor="end">4</text><text x="944.8" y="712.9" font-size="10.6" font-weight="bold" text-anchor="end">2</text><text x="944.8" y="750.3" font-size="10.6" font-weight="bold" text-anchor="end">0</text><text x="944.8" y="787.8" font-size="10.6" font-weight="bold" text-anchor="end">-2</text><text x="944.8" y="825.1" font-size="10.6" font-weight="bold" text-anchor="end">-4</text><text x="994" y="842.3" font-size="16.2" font-weight="bold" text-anchor="middle">BA</text><text x="1058" y="842.3" font-size="16.2" font-weight="bold" text-anchor="middle">WA</text></g>
<g id="panelC"><defs><marker id="ah" markerWidth="8" markerHeight="8" refX="6.5" refY="3.5" orient="auto" markerUnits="userSpaceOnUse"><path d="M0 0L8 3.5L0 7Z" fill="#6e6e6e" stroke="none"/></marker><marker id="ahs" markerWidth="8" markerHeight="8" refX="1.5" refY="3.5" orient="auto" markerUnits="userSpaceOnUse"><path d="M8 0L0 3.5L8 7Z" fill="#6e6e6e" stroke="none"/></marker></defs><g stroke="#6e6e6e" stroke-width="1.15" fill="none"><path d="M1251.9 223.9L1308.7 246.9" stroke-dasharray="6 3.5" marker-end="url(#ah)"/><path d="M1313.8 214L1321.3 238.1" marker-end="url(#ah)"/><path d="M1317.3 212.7L1471.1 447.3" marker-end="url(#ah)"/><path d="M1318.3 212.2L1440.3 367.7" marker-end="url(#ah)"/><path d="M1308.1 214.3L1281.9 399.9"/><path d="M1323.9 206.1L1484.2 259.4" stroke-dasharray="6 3.5" marker-end="url(#ah)"/><path d="M1415.4 220.7L1344.1 247.4" stroke-dasharray="6 3.5" marker-end="url(#ah)" marker-start="url(#ahs)"/><path d="M1343.9 252.8L1415.3 226.1" stroke-dasharray="6 3.5" marker-end="url(#ah)"/><path d="M1441.3 224.2L1487.1 255.2" stroke-dasharray="6 3.5" marker-end="url(#ah)"/><path d="M1431.7 236.2L1450.5 365.4" stroke-dasharray="6 3.5" marker-end="url(#ah)"/><path d="M1475.1 204.3L1495.5 250" stroke-dasharray="6 3.5" marker-end="url(#ah)"/><path d="M1533.6 188.8L1508.7 249.9" stroke-dasharray="6 3.5" marker-end="url(#ah)"/><path d="M1516.3 256.7L1578.2 217.7" stroke-dasharray="6 3.5" marker-end="url(#ah)"/><path d="M1519.2 261.7L1644.9 233.4" stroke-dasharray="6 3.5" marker-end="url(#ah)"/><path d="M1658.7 289.9L1521.5 268.5" stroke-dasharray="6 3.5" marker-end="url(#ah)"/><path d="M1602.8 302.6L1648.6 244.8" stroke-dasharray="6 3.5" marker-end="url(#ah)"/><path d="M1609 310.1L1657 296.4" stroke-dasharray="6 3.5" marker-end="url(#ah)"/><path d="M1579.3 307L1518.7 274.3" stroke-dasharray="6 3.5" marker-end="url(#ah)"/><path d="M1668 340.8L1610.6 320.6" stroke-dasharray="6 3.5" marker-end="url(#ah)"/><path d="M1589.3 328.6L1583.5 348.9" stroke-dasharray="6 3.5"/><path d="M1579 321.7L1475.2 373.4" stroke-dasharray="6 3.5" marker-end="url(#ah)"/><path d="M1421.8 322.9L1444.1 366.5" stroke-dasharray="6 3.5" marker-end="url(#ah)"/><path d="M1429.4 302.4L1485.6 273.9" stroke-dasharray="6 3.5" marker-end="url(#ah)"/><path d="M1504 311.5L1502.9 282" stroke-dasharray="6 3.5" marker-end="url(#ah)"/><path d="M1518.3 333.9L1555.4 355" stroke-dasharray="6 3.5" marker-end="url(#ah)"/><path d="M1494.4 337.5L1466.1 369.7" stroke-dasharray="6 3.5"/><path d="M1502 340.3L1483.4 445.4" stroke-dasharray="6 3.5" marker-end="url(#ah)"/><path d="M1330.2 268.2L1345.2 322" stroke-dasharray="6 3.5" marker-end="url(#ah)"/><path d="M1325.4 269.5L1340.4 323.3" stroke-dasharray="6 3.5" marker-end="url(#ah)"/><path d="M1313.6 264.1L1244.1 319.3" stroke-dasharray="6 3.5" marker-end="url(#ah)" marker-start="url(#ahs)"/><path d="M1309.9 259.4L1240.3 314.6" stroke-dasharray="6 3.5" marker-end="url(#ah)"/><path d="M1485.5 269.6L1249.2 326.9" stroke-dasharray="6 3.5" marker-end="url(#ah)"/><path d="M1247.4 336.5L1427.6 378.4" stroke-dasharray="6 3.5" marker-end="url(#ah)" marker-start="url(#ahs)"/><path d="M1245.1 340.7L1463.9 453.2" stroke-dasharray="6 3.5" marker-end="url(#ah)"/><path d="M1244.6 341.3L1330.6 390.2" stroke-dasharray="6 3.5" marker-end="url(#ah)"/><path d="M1237.3 346.6L1270.7 399.8" stroke-dasharray="6 3.5" marker-end="url(#ah)" marker-start="url(#ahs)"/><path d="M1248 334L1549.9 365.1" stroke-dasharray="6 3.5" marker-end="url(#ah)"/><path d="M1284 400.2L1321.6 270.1" stroke-dasharray="6 3.5" marker-end="url(#ah)"/><path d="M1289.7 401.9L1327.4 271.7" stroke-dasharray="6 3.5" marker-end="url(#ah)"/><path d="M1262.4 414.5L1198.3 415.2"/><path d="M1295.9 420.1L1365.2 445.2" marker-end="url(#ah)"/><path d="M1296.7 418.3L1461.7 457.3" marker-end="url(#ah)"/><path d="M1292.8 424.1L1414.3 517.1" marker-end="url(#ah)"/><path d="M1297 411.3L1326.8 405.9" stroke-dasharray="6 3.5" marker-end="url(#ah)"/><path d="M1297 411.3L1427 388.9" stroke-dasharray="6 3.5" marker-end="url(#ah)"/><path d="M1274.5 428.1L1249.4 492.9" stroke-dasharray="6 3.5" marker-end="url(#ah)"/><path d="M1281.3 428.8L1291.9 535.2" stroke-dasharray="6 3.5" marker-end="url(#ah)"/><path d="M1287.3 427.4L1361.5 559" stroke-dasharray="6 3.5" marker-end="url(#ah)"/><path d="M1365.8 388.1L1489 277.5" marker-end="url(#ah)"/><path d="M1372.8 397.9L1427 388.8" stroke-dasharray="6 3.5" marker-end="url(#ah)"/><path d="M1373.5 401.9L1427.7 392.7" stroke-dasharray="6 3.5" marker-end="url(#ah)"/><path d="M1361.1 417.9L1373.3 437" stroke-dasharray="6 3.5" marker-end="url(#ah)" marker-start="url(#ahs)"/><path d="M1344.1 419.1L1299.5 536" marker-end="url(#ah)"/><path d="M1370.3 410.7L1463.4 453.8" stroke-dasharray="6 3.5" marker-end="url(#ah)" marker-start="url(#ahs)"/><path d="M1349.9 352.5L1350.4 381.5" stroke-dasharray="6 3.5" marker-end="url(#ah)" marker-start="url(#ahs)"/><path d="M1364.4 344.6L1430.5 374.2" stroke-dasharray="6 3.5" marker-end="url(#ah)" marker-start="url(#ahs)"/><path d="M1366 340.1L1550 364.3" stroke-dasharray="6 3.5" marker-end="url(#ah)"/><path d="M1477.8 381.1L1550 371.6" stroke-dasharray="6 3.5" marker-end="url(#ah)"/><path d="M1475.6 447.8L1459.7 402.7" stroke-dasharray="6 3.5" marker-end="url(#ah)"/><path d="M1565.4 350.8L1512.6 279.5" stroke-dasharray="6 3.5" marker-end="url(#ah)"/><path d="M1562 383.4L1493.4 449.4" stroke-dasharray="6 3.5" marker-end="url(#ah)"/><path d="M1555.2 377.7L1399.1 444.3" stroke-dasharray="6 3.5" marker-end="url(#ah)"/><path d="M1568.2 507.2L1576.6 389.4" marker-end="url(#ah)"/><path d="M1584 442.4L1579.8 389.4" marker-end="url(#ah)"/><path d="M1513.9 542.2L1570.5 388.7" marker-end="url(#ah)"/><path d="M1673.6 505.5L1591.3 387" stroke-dasharray="6 3.5" marker-end="url(#ah)"/><path d="M1646.6 408.1L1598.8 380.1" stroke-dasharray="6 3.5"/><path d="M1562.8 383.9L1436 515.6" stroke-dasharray="6 3.5" marker-end="url(#ah)"/><path d="M1482.1 447.3L1500.5 281.9" stroke-dasharray="6 3.5" marker-end="url(#ah)"/><path d="M1470.4 473.6L1435.3 515.1" marker-end="url(#ah)" marker-start="url(#ahs)"/><path d="M1463.1 459.9L1400.8 453.3" stroke-dasharray="6 3.5" marker-end="url(#ah)"/><path d="M1454.7 581L1477 478" stroke-dasharray="6 3.5" marker-end="url(#ah)"/><path d="M1504.6 542L1485.3 477.7" stroke-dasharray="6 3.5" marker-end="url(#ah)"/><path d="M1567.7 457.6L1500 460.8" stroke-dasharray="6 3.5" marker-end="url(#ah)"/><path d="M1553.7 512.4L1495.6 472.2" stroke-dasharray="6 3.5" marker-end="url(#ah)"/><path d="M1465.4 469L1310.5 543.5" stroke-dasharray="6 3.5" marker-end="url(#ah)"/><path d="M1463.5 465.1L1262.4 504.9" stroke-dasharray="6 3.5" marker-end="url(#ah)"/><path d="M1638.5 458.3L1500 461.3" stroke-dasharray="6 3.5" marker-end="url(#ah)"/><path d="M1666.5 513.5L1499 466.9" stroke-dasharray="6 3.5" marker-end="url(#ah)"/><path d="M1570.6 448.8L1474.4 396" stroke-dasharray="6 3.5" marker-end="url(#ah)"/><path d="M1579.3 443.2L1509 281" stroke-dasharray="6 3.5" marker-end="url(#ah)"/><path d="M1581.3 471L1571.6 505.6" marker-end="url(#ah)"/><path d="M1572.5 446.9L1340.5 265.2" stroke-dasharray="6 3.5" marker-end="url(#ah)"/><path d="M1567.7 456.4L1400.9 451.9" stroke-dasharray="6 3.5" marker-end="url(#ah)"/><path d="M1568.3 452.9L1374.3 407.2" stroke-dasharray="6 3.5" marker-end="url(#ah)"/><path d="M1646.4 424L1599.9 448.9" stroke-dasharray="6 3.5"/><path d="M1638.5 457.7L1602.7 457.1" stroke-dasharray="6 3.5"/><path d="M1661.1 471.4L1676.1 504.4" stroke-dasharray="6 3.5"/><path d="M1665.7 518.4L1586.7 521.1" stroke-dasharray="6 3.5" marker-end="url(#ah)"/><path d="M1551.3 515.6L1399.4 457.8" stroke-dasharray="6 3.5" marker-end="url(#ah)"/><path d="M1508.5 541.5L1502.7 282" stroke-dasharray="6 3.5" marker-end="url(#ah)"/><path d="M1504.3 542.1L1459.2 402.8" stroke-dasharray="6 3.5" marker-end="url(#ah)"/><path d="M1495.8 565L1466.7 584.9" stroke-dasharray="6 3.5" marker-end="url(#ah)" marker-start="url(#ahs)"/><path d="M1666.2 521.4L1526.8 552.1" stroke-dasharray="6 3.5" marker-end="url(#ah)"/><path d="M1430.1 537.2L1445.8 579.6" marker-end="url(#ah)"/><path d="M1385 579.8L1434.8 591.4"/><path d="M1511.6 607.6L1468.6 598.8"/><path d="M1468.5 591L1497.6 571" stroke-dasharray="6 3.5" marker-end="url(#ah)"/><path d="M1373.3 555.8L1380.9 467.8" stroke-dasharray="6 3.5" marker-end="url(#ah)"/><path d="M1259 502.2L1365.6 458.3" stroke-dasharray="6 3.5" marker-end="url(#ah)"/><path d="M1255.5 519L1279.9 539.9" stroke-dasharray="6 3.5" marker-end="url(#ah)"/><path d="M1247.9 494.6L1321.1 269.9" stroke-dasharray="6 3.5" marker-end="url(#ah)"/><path d="M1303.9 540L1370.9 464.3" stroke-dasharray="6 3.5" marker-end="url(#ah)"/><path d="M1412.8 528.6L1312.5 548" stroke-dasharray="6 3.5" marker-end="url(#ah)"/><path d="M1419.9 515.6L1390.9 466" marker-end="url(#ah)"/><path d="M1428.2 514.5L1449.6 403.1" stroke-dasharray="6 3.5" marker-end="url(#ah)"/><path d="M1337.2 265.3L1438 368.7" marker-end="url(#ah)"/><path d="M1335.4 266.4L1470.1 447.8" marker-end="url(#ah)"/><path d="M1343.7 255.2L1482.9 264.2" stroke-dasharray="6 3.5" marker-end="url(#ah)" marker-start="url(#ahs)"/><path d="M1330.2 268.1L1377.8 435.4" stroke-dasharray="6 3.5" marker-end="url(#ah)"/><path d="M1328.6 268.4L1347.4 381.7" stroke-dasharray="6 3.5" marker-end="url(#ah)"/><path d="M1555.5 357.8L1343.4 261.8" stroke-dasharray="6 3.5" marker-end="url(#ah)"/><path d="M1310.9 549.8L1549.8 523.6" stroke-dasharray="6 3.5"/><path d="M1382.8 564.7L1468.3 474.6" stroke-dasharray="6 3.5" marker-end="url(#ah)"/><path d="M1438.7 398.1L1395.1 439.4" stroke-dasharray="6 3.5" marker-end="url(#ah)"/><path d="M1453.1 401.3L1451.7 578.8" stroke-dasharray="6 3.5" marker-end="url(#ah)"/></g><path d="M1490.6 167.3A27 27 0 1 0 1439.9 167.3" fill="none" stroke="#6e6e6e" stroke-width="1" stroke-dasharray="5 3" marker-end="url(#ah)"/><path d="M1324.4 193.4A15.5 15.5 0 1 0 1295.3 193.4" fill="none" stroke="#6e6e6e" stroke-width="1" marker-end="url(#ah)"/><path d="M1242.4 315.5A17 17 0 1 0 1210.5 315.5" fill="none" stroke="#6e6e6e" stroke-width="1" stroke-dasharray="5 3" marker-end="url(#ah)"/><path d="M1515.5 251.2A14 14 0 1 0 1489.2 251.2" fill="none" stroke="#6e6e6e" stroke-width="1" stroke-dasharray="5 3" marker-end="url(#ah)"/><path d="M1367.8 386.1A21 21 0 1 0 1328.3 386.1" fill="none" stroke="#6e6e6e" stroke-width="1" marker-end="url(#ah)"/><path d="M1685.1 393.9A28 28 0 1 0 1632.5 393.9" fill="none" stroke="#6e6e6e" stroke-width="1" marker-end="url(#ah)"/><path d="M1293.1 401A17 17 0 1 0 1261.2 401" fill="none" stroke="#6e6e6e" stroke-width="1" stroke-dasharray="5 3" marker-end="url(#ah)"/><path d="M1494.8 449.1A14 14 0 1 0 1468.4 449.1" fill="none" stroke="#6e6e6e" stroke-width="1" stroke-dasharray="5 3" marker-end="url(#ah)"/><path d="M1697.7 506.1A16.5 16.5 0 1 0 1666.7 506.1" fill="none" stroke="#6e6e6e" stroke-width="1" marker-end="url(#ah)"/><path d="M1580.3 509A14 14 0 1 0 1554 509" fill="none" stroke="#6e6e6e" stroke-width="1" stroke-dasharray="5 3" marker-end="url(#ah)"/><path d="M1464.8 582.6A14 14 0 1 0 1438.5 582.6" fill="none" stroke="#6e6e6e" stroke-width="1" stroke-dasharray="5 3" marker-end="url(#ah)"/><path d="M-15.5,-7C-15.5,-13 -8,-19.5 -1,-19.5C5,-19.5 10.5,-18 10.8,-13C11,-10 10.5,-8 10,-7C4,-5 -8,-5 -15.5,-7ZM14,-1.5C6,-3.5 -5,-2 -6,6C-7,14 3,19.5 16,19L16,16.5C8,16.5 2,14 2.5,8C3,3 8,1.5 14,1.5Z" transform="translate(1466.9 185.7) scale(0.9 1.1)" fill="#F28383" stroke="#8a8a8a" stroke-width="0.9"/><path d="M-26,0Q-10,-13 8,-13Q25,-13 26,-3L21,-3Q19,-8 10,-8Q1,-8 1,0Q1,8 10,8Q19,8 21,3L26,3Q25,13 8,13Q-10,13 -26,0Z" transform="translate(1538.8 176.1) scale(1.0)" fill="#F28383" stroke="#8a8a8a" stroke-width="0.9"/><path d="M-14,-10q0,-4 4,-4h4q3,0 3,3q0,3 3,3q3,0 3,-3q0,-3 3,-3h4q4,0 4,4v5q0,4 -6,5q-4,1 -5,6q-1,4 -3,4q-2,0 -3,-4q-1,-5 -5,-6q-6,-1 -6,-5z" transform="translate(1309.9 201.4) scale(1.0)" fill="#C5CBF8" stroke="#8a8a8a" stroke-width="0.9"/><path d="M-14,-10q0,-4 4,-4h4q3,0 3,3q0,3 3,3q3,0 3,-3q0,-3 3,-3h4q4,0 4,4v5q0,4 -6,5q-4,1 -5,6q-1,4 -3,4q-2,0 -3,-4q-1,-5 -5,-6q-6,-1 -6,-5z" transform="translate(1239 218.7) scale(0.95)" fill="#F28383" stroke="#8a8a8a" stroke-width="0.9"/><path d="M-15,-20q0,-4 3.5,-4q3.5,0 3.5,4q0,8 8,8q8,0 8,-8q0,-4 3.5,-4q3.5,0 3.5,4q0,14 -9,18v18q0,5 -6,5q-6,0 -6,-5v-18q-9,-4 -9,-18z" transform="translate(1428.7 215.7) scale(0.98 1.0)" fill="#F28383" stroke="#8a8a8a" stroke-width="0.9"/><ellipse cx="1593.3" cy="208.2" rx="14.5" ry="12.5" fill="#C5CBF8" stroke="#8a8a8a" stroke-width="0.8"/><path d="M-15,-20q0,-4 3.5,-4q3.5,0 3.5,4q0,8 8,8q8,0 8,-8q0,-4 3.5,-4q3.5,0 3.5,4q0,14 -9,18v18q0,5 -6,5q-6,0 -6,-5v-18q-9,-4 -9,-18z" transform="translate(1660.4 229.9) scale(0.98 1.0)" fill="#F28383" stroke="#8a8a8a" stroke-width="0.9"/><ellipse cx="1326.2" cy="254" rx="15.5" ry="12.5" fill="#fff" stroke="#8a8a8a" stroke-width="1"/><ellipse cx="1326.2" cy="254" rx="12.9" ry="9.9" fill="none" stroke="#8a8a8a" stroke-width="1"/><ellipse cx="1502.3" cy="265.5" rx="15.5" ry="12.5" fill="#fff" stroke="#8a8a8a" stroke-width="1"/><ellipse cx="1502.3" cy="265.5" rx="12.9" ry="9.9" fill="none" stroke="#8a8a8a" stroke-width="1"/><path d="M-15,-20q0,-4 3.5,-4q3.5,0 3.5,4q0,8 8,8q8,0 8,-8q0,-4 3.5,-4q3.5,0 3.5,4q0,14 -9,18v18q0,5 -6,5q-6,0 -6,-5v-18q-9,-4 -9,-18z" transform="translate(1672.4 292.1) scale(0.98 1.0)" fill="#F28383" stroke="#8a8a8a" stroke-width="0.9"/><ellipse cx="1415.1" cy="309.6" rx="14.5" ry="12.5" fill="#F28383" stroke="#8a8a8a" stroke-width="0.8"/><ellipse cx="1593.3" cy="314.5" rx="14.5" ry="12.5" fill="#EE5A5A" stroke="#8a8a8a" stroke-width="0.8"/><ellipse cx="1504.5" cy="326" rx="14.5" ry="12.5" fill="#F28383" stroke="#8a8a8a" stroke-width="0.8"/><ellipse cx="1228.1" cy="332" rx="18" ry="14.5" fill="#fff" stroke="#8a8a8a" stroke-width="1"/><ellipse cx="1228.1" cy="332" rx="15.4" ry="11.9" fill="none" stroke="#8a8a8a" stroke-width="1"/><ellipse cx="1349.7" cy="338" rx="14.5" ry="12.5" fill="#C5CBF8" stroke="#8a8a8a" stroke-width="0.8"/><ellipse cx="1683.3" cy="346.2" rx="14.5" ry="12.5" fill="#F28383" stroke="#8a8a8a" stroke-width="0.8"/><ellipse cx="1578.1" cy="368" rx="24.5" ry="17.5" fill="#fff" stroke="#8a8a8a" stroke-width="1"/><ellipse cx="1578.1" cy="368" rx="21.9" ry="14.9" fill="none" stroke="#8a8a8a" stroke-width="1"/><ellipse cx="1453.2" cy="384.3" rx="23" ry="15" fill="#fff" stroke="#8a8a8a" stroke-width="1"/><ellipse cx="1453.2" cy="384.3" rx="20.4" ry="12.4" fill="none" stroke="#8a8a8a" stroke-width="1"/><path d="M-14,-10q0,-4 4,-4h4q3,0 3,3q0,3 3,3q3,0 3,-3q0,-3 3,-3h4q4,0 4,4v5q0,4 -6,5q-4,1 -5,6q-1,4 -3,4q-2,0 -3,-4q-1,-5 -5,-6q-6,-1 -6,-5z" transform="translate(1350.8 401.7) scale(1.5 1.4)" fill="#F28383" stroke="#8a8a8a" stroke-width="0.6"/><path d="M-15.5,-7C-15.5,-13 -8,-19.5 -1,-19.5C5,-19.5 10.5,-18 10.8,-13C11,-10 10.5,-8 10,-7C4,-5 -8,-5 -15.5,-7ZM14,-1.5C6,-3.5 -5,-2 -6,6C-7,14 3,19.5 16,19L16,16.5C8,16.5 2,14 2.5,8C3,3 8,1.5 14,1.5Z" transform="translate(1660.7 416.3) scale(0.9 1.05)" fill="#C5CBF8" stroke="#8a8a8a" stroke-width="0.9"/><ellipse cx="1181.8" cy="415.4" rx="14.5" ry="12.5" fill="#A2ADF4" stroke="#8a8a8a" stroke-width="0.8"/><ellipse cx="1279.9" cy="414.3" rx="15.5" ry="12.5" fill="#fff" stroke="#8a8a8a" stroke-width="1"/><ellipse cx="1279.9" cy="414.3" rx="12.9" ry="9.9" fill="none" stroke="#8a8a8a" stroke-width="1"/><ellipse cx="1382.4" cy="451.4" rx="14.5" ry="12.5" fill="#C5CBF8" stroke="#8a8a8a" stroke-width="0.8"/><ellipse cx="1480.5" cy="461.7" rx="15.5" ry="12.5" fill="#fff" stroke="#8a8a8a" stroke-width="1"/><ellipse cx="1480.5" cy="461.7" rx="12.9" ry="9.9" fill="none" stroke="#8a8a8a" stroke-width="1"/><ellipse cx="1585.2" cy="456.8" rx="15.5" ry="12.5" fill="#fff" stroke="#8a8a8a" stroke-width="1"/><ellipse cx="1585.2" cy="456.8" rx="12.9" ry="9.9" fill="none" stroke="#8a8a8a" stroke-width="1"/><ellipse cx="1654.9" cy="457.9" rx="14.5" ry="12.5" fill="#C5CBF8" stroke="#8a8a8a" stroke-width="0.8"/><ellipse cx="1243.4" cy="508.6" rx="15.5" ry="12.5" fill="#fff" stroke="#8a8a8a" stroke-width="1"/><ellipse cx="1243.4" cy="508.6" rx="12.9" ry="9.9" fill="none" stroke="#8a8a8a" stroke-width="1"/><ellipse cx="1682.2" cy="517.9" rx="14.5" ry="12.5" fill="#F28383" stroke="#8a8a8a" stroke-width="0.8"/><ellipse cx="1567.2" cy="521.7" rx="15.5" ry="12.5" fill="#fff" stroke="#8a8a8a" stroke-width="1"/><ellipse cx="1567.2" cy="521.7" rx="12.9" ry="9.9" fill="none" stroke="#8a8a8a" stroke-width="1"/><path d="M-14,-10q0,-4 4,-4h4q3,0 3,3q0,3 3,3q3,0 3,-3q0,-3 3,-3h4q4,0 4,4v5q0,4 -6,5q-4,1 -5,6q-1,4 -3,4q-2,0 -3,-4q-1,-5 -5,-6q-6,-1 -6,-5z" transform="translate(1426 526.1) scale(0.9)" fill="#F28383" stroke="#8a8a8a" stroke-width="1"/><ellipse cx="1293.5" cy="551.7" rx="15.5" ry="12.5" fill="#fff" stroke="#8a8a8a" stroke-width="1"/><ellipse cx="1293.5" cy="551.7" rx="12.9" ry="9.9" fill="none" stroke="#8a8a8a" stroke-width="1"/><ellipse cx="1508.9" cy="556" rx="14.5" ry="12.5" fill="#F06C6C" stroke="#8a8a8a" stroke-width="0.8"/><path d="M-15,-20q0,-4 3.5,-4q3.5,0 3.5,4q0,8 8,8q8,0 8,-8q0,-4 3.5,-4q3.5,0 3.5,4q0,14 -9,18v18q0,5 -6,5q-6,0 -6,-5v-18q-9,-4 -9,-18z" transform="translate(1371.5 576.6) scale(0.98 1.0)" fill="#F28383" stroke="#8a8a8a" stroke-width="0.9"/><ellipse cx="1451.6" cy="595.3" rx="15.5" ry="12.5" fill="#fff" stroke="#8a8a8a" stroke-width="1"/><ellipse cx="1451.6" cy="595.3" rx="12.9" ry="9.9" fill="none" stroke="#8a8a8a" stroke-width="1"/><path d="M-15,-20q0,-4 3.5,-4q3.5,0 3.5,4q0,8 8,8q8,0 8,-8q0,-4 3.5,-4q3.5,0 3.5,4q0,14 -9,18v18q0,5 -6,5q-6,0 -6,-5v-18q-9,-4 -9,-18z" transform="translate(1525.2 610.4) scale(0.98 1.0)" fill="#F28383" stroke="#8a8a8a" stroke-width="0.9"/><text transform="translate(1466.9 189.4) scale(1.13 1)" font-size="15.7" font-weight="bold" text-anchor="middle">TRIM21</text><text transform="translate(1538.8 181.7) scale(1.13 1)" font-size="15.7" font-weight="bold" text-anchor="middle">F10</text><text transform="translate(1309.9 210.1) scale(1.13 1)" font-size="15.7" font-weight="bold" text-anchor="middle">BMX</text><text transform="translate(1239 225.3) scale(1.13 1)" font-size="15.7" font-weight="bold" text-anchor="middle">HSPB8</text><text transform="translate(1428.7 219.9) scale(1.13 1)" font-size="15.7" font-weight="bold" text-anchor="middle">TLR1</text><text transform="translate(1593.3 213.9) scale(1.13 1)" font-size="15.7" font-weight="bold" text-anchor="middle">COL2A1</text><text transform="translate(1660.4 234.1) scale(1.13 1)" font-size="15.7" font-weight="bold" text-anchor="middle">CD80</text><text transform="translate(1326.2 259.7) scale(1.13 1)" font-size="15.7" font-weight="bold" text-anchor="middle">P38 MAPK</text><text transform="translate(1502.3 271.1) scale(1.13 1)" font-size="15.7" font-weight="bold" text-anchor="middle">NFkB (complex)</text><text transform="translate(1672.4 296.2) scale(1.13 1)" font-size="15.7" font-weight="bold" text-anchor="middle">OLR1</text><text transform="translate(1415.1 315.3) scale(1.13 1)" font-size="15.7" font-weight="bold" text-anchor="middle">CYTIP</text><text transform="translate(1593.3 320.2) scale(1.13 1)" font-size="15.7" font-weight="bold" text-anchor="middle">LDL</text><text transform="translate(1504.5 331.6) scale(1.13 1)" font-size="15.7" font-weight="bold" text-anchor="middle">IGFBP6</text><text transform="translate(1228.1 337.6) scale(1.13 1)" font-size="15.7" font-weight="bold" text-anchor="middle">Interferon alpha</text><text transform="translate(1349.7 343.6) scale(1.13 1)" font-size="15.7" font-weight="bold" text-anchor="middle">FLNA</text><text transform="translate(1683.3 351.8) scale(1.13 1)" font-size="15.7" font-weight="bold" text-anchor="middle">PSRC1</text><text transform="translate(1578.1 373.6) scale(1.13 1)" font-size="15.7" font-weight="bold" text-anchor="middle">ERK</text><text transform="translate(1453.2 390) scale(1.13 1)" font-size="15.7" font-weight="bold" text-anchor="middle">Jnk</text><text transform="translate(1350.8 406.3) scale(1.13 1)" font-size="15.7" font-weight="bold" text-anchor="middle">MTOR</text><text transform="translate(1657.7 420) scale(1.13 1)" font-size="15.7" font-weight="bold" text-anchor="middle">OGT</text><text transform="translate(1181.8 421) scale(1.13 1)" font-size="15.7" font-weight="bold" text-anchor="middle">TPM2</text><text transform="translate(1279.9 420) scale(1.13 1)" font-size="15.7" font-weight="bold" text-anchor="middle">Hsp90</text><text transform="translate(1382.4 457) scale(1.13 1)" font-size="15.7" font-weight="bold" text-anchor="middle">RPS6</text><text transform="translate(1480.5 467.4) scale(1.13 1)" font-size="15.7" font-weight="bold" text-anchor="middle">Akt</text><text transform="translate(1585.2 462.5) scale(1.13 1)" font-size="15.7" font-weight="bold" text-anchor="middle">TCR</text><text transform="translate(1654.9 463.6) scale(1.13 1)" font-size="15.7" font-weight="bold" text-anchor="middle">RPS4X</text><text transform="translate(1243.4 514.3) scale(1.13 1)" font-size="15.7" font-weight="bold" text-anchor="middle">CDK4/6</text><text transform="translate(1682.2 523.5) scale(1.13 1)" font-size="15.7" font-weight="bold" text-anchor="middle">S100A4</text><text transform="translate(1567.2 527.3) scale(1.13 1)" font-size="15.7" font-weight="bold" text-anchor="middle">Mek</text><text transform="translate(1426 531.7) scale(1.13 1)" font-size="15.7" font-weight="bold" text-anchor="middle">PIK3CA</text><text transform="translate(1293.5 557.3) scale(1.13 1)" font-size="15.7" font-weight="bold" text-anchor="middle">p70 S6k</text><text transform="translate(1508.9 561.7) scale(1.13 1)" font-size="15.7" font-weight="bold" text-anchor="middle">PI3K (family)</text><text transform="translate(1371.5 580.8) scale(1.13 1)" font-size="15.7" font-weight="bold" text-anchor="middle">CD2</text><text transform="translate(1451.6 600.9) scale(1.13 1)" font-size="15.7" font-weight="bold" text-anchor="middle">PI3K p85</text><text transform="translate(1525.2 614.6) scale(1.13 1)" font-size="15.7" font-weight="bold" text-anchor="middle">CD19</text><g stroke="#6e6e6e" stroke-width="1.15" fill="none"><path d="M1383.6 782.5L1429.3 768.9" stroke-dasharray="6 3.5" marker-end="url(#ah)"/><path d="M1524.6 788.1L1385.6 788.1" stroke-dasharray="6 3.5"/><path d="M1581.3 833.2L1386.5 792.7" marker-end="url(#ah)"/><path d="M1348.9 797.1L1230.2 865.1" stroke-dasharray="6 3.5" marker-end="url(#ah)"/><path d="M1357.5 800.8L1318.4 870.9" marker-end="url(#ah)" marker-start="url(#ahs)"/><path d="M1375.6 799.6L1445.9 872.3" stroke-dasharray="6 3.5" marker-end="url(#ah)"/><path d="M1513.1 863.6L1382.8 797.4" stroke-dasharray="6 3.5" marker-end="url(#ah)" marker-start="url(#ahs)"/><path d="M1583.6 881.6L1383.9 796.3" stroke-dasharray="6 3.5" marker-end="url(#ah)"/><path d="M1545.2 939.2L1378.9 800.1" stroke-dasharray="6 3.5" marker-end="url(#ah)"/><path d="M1430.2 979.2L1369.7 803.2" stroke-dasharray="6 3.5" marker-end="url(#ah)"/><path d="M1521.7 1004.5L1374.6 801.9" stroke-dasharray="6 3.5" marker-end="url(#ah)"/><path d="M1525.3 1075.4L1372.6 802.5" stroke-dasharray="6 3.5" marker-end="url(#ah)"/><path d="M1247.9 991.7L1356.3 802.5" stroke-dasharray="6 3.5" marker-end="url(#ah)"/><path d="M1287.6 1124.3L1361.1 803.4" stroke-dasharray="6 3.5" marker-end="url(#ah)"/><path d="M1349.4 986.4L1363.4 803.6" stroke-dasharray="6 3.5" marker-end="url(#ah)"/><path d="M1651.5 960.6L1381.6 798.3" stroke-dasharray="6 3.5" marker-end="url(#ah)"/><path d="M1535.1 799.8L1470.3 872.2" stroke-dasharray="6 3.5" marker-end="url(#ah)"/><path d="M1546.6 801.6L1556.8 934.5" stroke-dasharray="6 3.5" marker-end="url(#ah)"/><path d="M1384 901L1529.7 799.2" marker-end="url(#ah)"/><path d="M1601.7 849.3L1564.4 935.1" marker-end="url(#ah)"/><path d="M1665.8 860.5L1620.3 880.6" stroke-dasharray="6 3.5" marker-end="url(#ah)"/><path d="M1674.5 911.3L1622 895.4" stroke-dasharray="6 3.5" marker-end="url(#ah)"/><path d="M1580.2 888.6L1488.5 886.1" stroke-dasharray="6 3.5" marker-end="url(#ah)"/><path d="M1592.4 901.4L1567.8 936" marker-end="url(#ah)"/><path d="M1610.9 901.1L1657.1 957.9"/><path d="M1604.6 902.4L1657.9 1110.3" stroke-dasharray="6 3.5" marker-end="url(#ah)"/><path d="M1594.1 901.8L1538.5 1002.3" stroke-dasharray="6 3.5" marker-end="url(#ah)"/><path d="M1582.3 895.1L1261.3 997.8" stroke-dasharray="6 3.5" marker-end="url(#ah)"/><path d="M1577.5 945.1L1672.4 921.5" stroke-dasharray="6 3.5" marker-end="url(#ah)"/><path d="M1543.2 940.3L1476.1 896.8" stroke-dasharray="6 3.5" marker-end="url(#ah)" marker-start="url(#ahs)"/><path d="M1535.9 1003.7L1551.8 964.8" marker-end="url(#ah)"/><path d="M1559.1 963.4L1575.7 1160" stroke-dasharray="6 3.5" marker-end="url(#ah)"/><path d="M1534.9 1074.7L1555.1 965.3" marker-end="url(#ah)"/><path d="M1648.3 976.2L1550.9 1009.8" stroke-dasharray="6 3.5" marker-end="url(#ah)"/><path d="M1654.5 980.7L1546.3 1075.9" stroke-dasharray="6 3.5" marker-end="url(#ah)"/><path d="M1666.7 983.3L1665.9 1034.8" stroke-dasharray="6 3.5" marker-end="url(#ah)"/><path d="M1649.1 962.6L1481.2 894.6" stroke-dasharray="6 3.5" marker-end="url(#ah)"/><path d="M1686.3 1012.8L1551.5 1016.2" stroke-dasharray="6 3.5"/><path d="M1463 897.8L1526.9 1073.1" marker-end="url(#ah)" marker-start="url(#ahs)"/><path d="M1457.3 899.9L1521.3 1075.2" stroke-dasharray="6 3.5" marker-end="url(#ah)" marker-start="url(#ahs)"/><path d="M1455.6 1127.2L1458.3 900" stroke-dasharray="6 3.5" marker-end="url(#ah)"/><path d="M1437.7 979L1455.2 899.9" stroke-dasharray="6 3.5" marker-end="url(#ah)"/><path d="M1382.3 1124.6L1453.9 899.7" stroke-dasharray="6 3.5" marker-end="url(#ah)"/><path d="M1293.1 1125.4L1449 899" stroke-dasharray="6 3.5" marker-end="url(#ah)"/><path d="M1523.6 1004.1L1466.1 899.3" stroke-dasharray="6 3.5" marker-end="url(#ah)"/><path d="M1382 1044.4L1451.7 899.5" stroke-dasharray="6 3.5" marker-end="url(#ah)"/><path d="M1370.4 924.4L1375.2 1041.8" stroke-dasharray="6 3.5" marker-end="url(#ah)"/><path d="M1320.1 953.5L1355.7 923" stroke-dasharray="6 3.5" marker-end="url(#ah)"/><path d="M1515.9 1007.1L1386.2 921.6" stroke-dasharray="6 3.5" marker-end="url(#ah)"/><path d="M1245.7 952.5L1295.4 960.1"/><path d="M1223.6 937L1216.8 896.4" stroke-dasharray="6 3.5" marker-end="url(#ah)"/><path d="M1229 961.8L1237 991.1" stroke-dasharray="6 3.5"/><path d="M1297.8 969.6L1257.6 994.1" stroke-dasharray="6 3.5" marker-end="url(#ah)"/><path d="M1304.1 895.9L1249 990" stroke-dasharray="6 3.5" marker-end="url(#ah)"/><path d="M1344.1 986.7L1315.5 898.8" stroke-dasharray="6 3.5" marker-end="url(#ah)"/><path d="M1230.9 1016.4L1192.5 1063.5" stroke-dasharray="6 3.5" marker-end="url(#ah)"/><path d="M1240.8 1017.9L1242 1139.1" stroke-dasharray="6 3.5" marker-end="url(#ah)" marker-start="url(#ahs)"/><path d="M1258.6 1011.4L1356 1049.6" stroke-dasharray="6 3.5" marker-end="url(#ah)"/><path d="M1280.2 1124.5L1245.6 1019.5" stroke-dasharray="6 3.5" marker-end="url(#ah)"/><path d="M1327.5 1000.8L1263.6 1003.4" stroke-dasharray="6 3.5" marker-end="url(#ah)"/><path d="M1413.9 993.7L1263.5 1003" stroke-dasharray="6 3.5" marker-end="url(#ah)"/><path d="M1509.6 1015.9L1263.6 1005.4" stroke-dasharray="6 3.5" marker-end="url(#ah)"/><path d="M1259.8 1009.9L1511.3 1082.1" stroke-dasharray="6 3.5" marker-end="url(#ah)"/><path d="M1342.4 1012.8L1291.4 1122.9" stroke-dasharray="6 3.5" marker-end="url(#ah)"/><path d="M1369.2 998.1L1414 994.2" stroke-dasharray="6 3.5"/><path d="M1429.7 1005.5L1384.2 1123.1" marker-end="url(#ah)"/><path d="M1436.7 1005.8L1453.3 1125.3" marker-end="url(#ah)" marker-start="url(#ahs)"/><path d="M1454.3 997.3L1509.1 1011.3" stroke-dasharray="6 3.5" marker-end="url(#ah)"/><path d="M1446.3 1003.7L1519.5 1075.4" stroke-dasharray="6 3.5" marker-end="url(#ah)"/><path d="M1423.2 1003.6L1297.6 1125.1" stroke-dasharray="6 3.5" marker-end="url(#ah)"/><path d="M1530.9 1030.3L1532 1072.6" stroke-dasharray="6 3.5" marker-end="url(#ah)"/><path d="M1524.9 1030.4L1526 1072.8" stroke-dasharray="6 3.5" marker-end="url(#ah)"/><path d="M1511.1 1021.9L1397.2 1051.7" stroke-dasharray="6 3.5" marker-end="url(#ah)"/><path d="M1517.6 1027.4L1390.9 1131"/><path d="M1543.1 1027.6L1647.5 1117.3" marker-end="url(#ah)"/><path d="M1550.2 1021.6L1644.2 1044.6" stroke-dasharray="6 3.5" marker-end="url(#ah)"/><path d="M1513.9 1025L1303.1 1128.6" stroke-dasharray="6 3.5" marker-end="url(#ah)"/><path d="M1355.1 1059.7L1199.5 1077.3" marker-end="url(#ah)"/><path d="M1395.9 1061.3L1510.4 1083.8" marker-end="url(#ah)"/><path d="M1297 1126.8L1361.9 1069.6" stroke-dasharray="6 3.5" marker-end="url(#ah)"/><path d="M1469.8 1130.9L1516.4 1099.1" stroke-dasharray="6 3.5" marker-end="url(#ah)"/><path d="M1393.8 1136.7L1512.1 1095.2" stroke-dasharray="6 3.5" marker-end="url(#ah)"/><path d="M1521.6 1180.3L1530.6 1103.6" stroke-dasharray="6 3.5" marker-end="url(#ah)"/><path d="M1626.5 1153.7L1548.3 1099.2" stroke-dasharray="6 3.5" marker-end="url(#ah)"/><path d="M1645.7 1125L1553 1094.8" stroke-dasharray="6 3.5" marker-end="url(#ah)"/><path d="M1538.7 1101L1568.3 1162.2" stroke-dasharray="6 3.5" marker-end="url(#ah)"/><path d="M1521.7 1099.7L1453.3 1173.4" marker-end="url(#ah)" marker-start="url(#ahs)"/><path d="M1304.6 1133.7L1510.4 1092.5" stroke-dasharray="6 3.5" marker-end="url(#ah)"/><path d="M1268.6 1128.9L1197.3 1089.5" stroke-dasharray="6 3.5" marker-end="url(#ah)"/><path d="M1232.2 1142.7L1192.7 1095.5" stroke-dasharray="6 3.5" marker-end="url(#ah)"/><path d="M1358.4 1141.7L1307.5 1138.9" stroke-dasharray="6 3.5" marker-end="url(#ah)"/><path d="M1434.4 1140.3L1307.6 1138.1" stroke-dasharray="6 3.5" marker-end="url(#ah)"/><path d="M1290.9 1191.6L1257.3 1166.1" stroke-dasharray="6 3.5" marker-end="url(#ah)"/><path d="M1313.4 1191.5L1360.3 1155.3" marker-end="url(#ah)"/><path d="M1262.5 1157.9L1412.7 1182" stroke-dasharray="6 3.5" marker-end="url(#ah)"/><path d="M1434.5 1141.2L1396.8 1142.2" marker-end="url(#ah)"/><path d="M1476.4 1139.7L1644.9 1131.6" stroke-dasharray="6 3.5"/><path d="M1474.1 1146.9L1558.2 1174.6" stroke-dasharray="6 3.5" marker-end="url(#ah)"/><path d="M1359.7 1045.7L1262.3 1007.5" stroke-dasharray="6 3.5" marker-end="url(#ah)"/><path d="M1440.5 1131.2L1257.3 1014.9" stroke-dasharray="6 3.5" marker-end="url(#ah)"/><path d="M1294.7 964.5L1254.5 988.9" stroke-dasharray="6 3.5" marker-end="url(#ah)"/><path d="M1511.9 874.9L1486.2 879.9" stroke-dasharray="6 3.5" marker-end="url(#ah)"/><path d="M1651.4 979L1394.1 1132.3" stroke-dasharray="6 3.5" marker-end="url(#ah)"/></g><path d="M1377.7 775.6A14 14 0 1 0 1351.4 775.6" fill="none" stroke="#6e6e6e" stroke-width="1" stroke-dasharray="5 3" marker-end="url(#ah)"/><path d="M1234.8 857.5A23 23 0 1 0 1191.6 857.5" fill="none" stroke="#6e6e6e" stroke-width="1" marker-end="url(#ah)"/><path d="M1472.3 873.2A14 14 0 1 0 1446 873.2" fill="none" stroke="#6e6e6e" stroke-width="1" stroke-dasharray="5 3" marker-end="url(#ah)"/><path d="M1363.4 987.8A14 14 0 1 0 1337.1 987.8" fill="none" stroke="#6e6e6e" stroke-width="1" stroke-dasharray="5 3" marker-end="url(#ah)"/><path d="M1543.7 1004.7A14 14 0 1 0 1517.4 1004.7" fill="none" stroke="#6e6e6e" stroke-width="1" stroke-dasharray="5 3" marker-end="url(#ah)"/><path d="M1389 1046A14 14 0 1 0 1362.7 1046" fill="none" stroke="#6e6e6e" stroke-width="1" marker-end="url(#ah)"/><path d="M1545.6 1076A14 14 0 1 0 1519.3 1076" fill="none" stroke="#6e6e6e" stroke-width="1" stroke-dasharray="5 3" marker-end="url(#ah)"/><path d="M1684.7 1109.1A23 23 0 1 0 1641.5 1109.1" fill="none" stroke="#6e6e6e" stroke-width="1" stroke-dasharray="5 3" marker-end="url(#ah)"/><path d="M1385 1120.2A17 17 0 1 0 1353.1 1120.2" fill="none" stroke="#6e6e6e" stroke-width="1" stroke-dasharray="5 3" marker-end="url(#ah)"/><ellipse cx="1450.9" cy="762.6" rx="20" ry="11" fill="#8E9DF2" stroke="#8a8a8a" stroke-width="0.8"/><ellipse cx="1364.6" cy="788.1" rx="19" ry="11.5" fill="#fff" stroke="#8a8a8a" stroke-width="1"/><ellipse cx="1364.6" cy="788.1" rx="16.4" ry="8.9" fill="none" stroke="#8a8a8a" stroke-width="1"/><ellipse cx="1545.6" cy="788.1" rx="19" ry="11.5" fill="#8E9DF2" stroke="#8a8a8a" stroke-width="0.8"/><path d="M-28,0C-28,-12 -12,-14 0,-8C12,-14 28,-12 28,0C28,12 12,14 0,8C-12,14 -28,12 -28,0Z" transform="translate(1606.4 838.4) scale(0.98 0.85)" fill="#A8B2F4" stroke="#8a8a8a" stroke-width="1"/><ellipse cx="1683.4" cy="852.7" rx="20" ry="11" fill="#A8B2F4" stroke="#8a8a8a" stroke-width="0.8"/><path d="M-15.5,-7C-15.5,-13 -8,-19.5 -1,-19.5C5,-19.5 10.5,-18 10.8,-13C11,-10 10.5,-8 10,-7C4,-5 -8,-5 -15.5,-7ZM14,-1.5C6,-3.5 -5,-2 -6,6C-7,14 3,19.5 16,19L16,16.5C8,16.5 2,14 2.5,8C3,3 8,1.5 14,1.5Z" transform="translate(1213.2 874.8) scale(1.0)" fill="#8E9DF2" stroke="#8a8a8a" stroke-width="0.9"/><path d="M-19,-3q-3,-7 5,-9q6,-2 9,3q7,-2 15,-1q9,1 9,8q0,8 -9,9q-11,1 -21,0q-8,-1 -8,-6z" transform="translate(1310.9 884.3) scale(1.0)" fill="#AEB9F6" stroke="#8a8a8a" stroke-width="0.9"/><path d="M-28,0C-28,-12 -12,-14 0,-8C12,-14 28,-12 28,0C28,12 12,14 0,8C-12,14 -28,12 -28,0Z" transform="translate(1458.4 885.4) scale(0.97)" fill="#5466E0" stroke="#8a8a8a" stroke-width="0.9"/><path d="M-15.5,-7C-15.5,-13 -8,-19.5 -1,-19.5C5,-19.5 10.5,-18 10.8,-13C11,-10 10.5,-8 10,-7C4,-5 -8,-5 -15.5,-7ZM14,-1.5C6,-3.5 -5,-2 -6,6C-7,14 3,19.5 16,19L16,16.5C8,16.5 2,14 2.5,8C3,3 8,1.5 14,1.5Z" transform="translate(1528.7 871.6) scale(1.0)" fill="#8E9DF2" stroke="#8a8a8a" stroke-width="0.9"/><ellipse cx="1601.1" cy="889.1" rx="19" ry="11.5" fill="#fff" stroke="#8a8a8a" stroke-width="1"/><ellipse cx="1601.1" cy="889.1" rx="16.4" ry="8.9" fill="none" stroke="#8a8a8a" stroke-width="1"/><path d="M-15,-20q0,-4 3.5,-4q3.5,0 3.5,4q0,8 8,8q8,0 8,-8q0,-4 3.5,-4q3.5,0 3.5,4q0,14 -9,18v18q0,5 -6,5q-6,0 -6,-5v-18q-9,-4 -9,-18z" transform="translate(1692 916.6) scale(1.3 0.91)" fill="#C5CBF8" stroke="#8a8a8a" stroke-width="0.8"/><ellipse cx="1369.8" cy="910.9" rx="19" ry="11.5" fill="#fff" stroke="#8a8a8a" stroke-width="1"/><ellipse cx="1369.8" cy="910.9" rx="16.4" ry="8.9" fill="none" stroke="#8a8a8a" stroke-width="1"/><path d="M-14,-10q0,-4 4,-4h4q3,0 3,3q0,3 3,3q3,0 3,-3q0,-3 3,-3h4q4,0 4,4v5q0,4 -6,5q-4,1 -5,6q-1,4 -3,4q-2,0 -3,-4q-1,-5 -5,-6q-6,-1 -6,-5z" transform="translate(1225.6 949.4) scale(1.38 0.96)" fill="#AEB9F6" stroke="#8a8a8a" stroke-width="0.8"/><path d="M-21,-9Q0,-14 21,-9L16,6Q13,12 0,12Q-13,12 -16,6Z" transform="translate(1309.7 962.3) scale(0.97)" fill="#5466E0" stroke="#8a8a8a" stroke-width="0.9"/><ellipse cx="1557.9" cy="949.9" rx="19" ry="11.5" fill="#fff" stroke="#8a8a8a" stroke-width="1"/><ellipse cx="1557.9" cy="949.9" rx="16.4" ry="8.9" fill="none" stroke="#8a8a8a" stroke-width="1"/><ellipse cx="1666.8" cy="969.8" rx="19" ry="11.5" fill="#fff" stroke="#8a8a8a" stroke-width="1"/><ellipse cx="1666.8" cy="969.8" rx="16.4" ry="8.9" fill="none" stroke="#8a8a8a" stroke-width="1"/><ellipse cx="1240.6" cy="1004.4" rx="19" ry="11.5" fill="#fff" stroke="#8a8a8a" stroke-width="1"/><ellipse cx="1240.6" cy="1004.4" rx="16.4" ry="8.9" fill="none" stroke="#8a8a8a" stroke-width="1"/><ellipse cx="1348.4" cy="999.9" rx="19" ry="11.5" fill="#fff" stroke="#8a8a8a" stroke-width="1"/><ellipse cx="1348.4" cy="999.9" rx="16.4" ry="8.9" fill="none" stroke="#8a8a8a" stroke-width="1"/><ellipse cx="1434.8" cy="992.4" rx="19" ry="11.5" fill="#fff" stroke="#8a8a8a" stroke-width="1"/><ellipse cx="1434.8" cy="992.4" rx="16.4" ry="8.9" fill="none" stroke="#8a8a8a" stroke-width="1"/><ellipse cx="1530.5" cy="1016.8" rx="19" ry="11.5" fill="#fff" stroke="#8a8a8a" stroke-width="1"/><ellipse cx="1530.5" cy="1016.8" rx="16.4" ry="8.9" fill="none" stroke="#8a8a8a" stroke-width="1"/><path d="M-15.5,-7C-15.5,-13 -8,-19.5 -1,-19.5C5,-19.5 10.5,-18 10.8,-13C11,-10 10.5,-8 10,-7C4,-5 -8,-5 -15.5,-7ZM14,-1.5C6,-3.5 -5,-2 -6,6C-7,14 3,19.5 16,19L16,16.5C8,16.5 2,14 2.5,8C3,3 8,1.5 14,1.5Z" transform="translate(1703.3 1012.4) scale(1.0)" fill="#8E9DF2" stroke="#8a8a8a" stroke-width="0.9"/><ellipse cx="1665.7" cy="1049.8" rx="19" ry="11" fill="#9CA8F3" stroke="#8a8a8a" stroke-width="0.8"/><ellipse cx="1375.8" cy="1057.3" rx="19" ry="11.5" fill="#fff" stroke="#8a8a8a" stroke-width="1"/><ellipse cx="1375.8" cy="1057.3" rx="16.4" ry="8.9" fill="none" stroke="#8a8a8a" stroke-width="1"/><path d="M-15,-20q0,-4 3.5,-4q3.5,0 3.5,4q0,8 8,8q8,0 8,-8q0,-4 3.5,-4q3.5,0 3.5,4q0,14 -9,18v18q0,5 -6,5q-6,0 -6,-5v-18q-9,-4 -9,-18z" transform="translate(1179.4 1079.6) scale(1.3 0.91)" fill="#F49A9A" stroke="#8a8a8a" stroke-width="0.8"/><ellipse cx="1532.4" cy="1088.1" rx="19" ry="11.5" fill="#fff" stroke="#8a8a8a" stroke-width="1"/><ellipse cx="1532.4" cy="1088.1" rx="16.4" ry="8.9" fill="none" stroke="#8a8a8a" stroke-width="1"/><path d="M-15,-20q0,-4 3.5,-4q3.5,0 3.5,4q0,8 8,8q8,0 8,-8q0,-4 3.5,-4q3.5,0 3.5,4q0,14 -9,18v18q0,5 -6,5q-6,0 -6,-5v-18q-9,-4 -9,-18z" transform="translate(1663.1 1130.7) scale(1.3 0.91)" fill="#C5CBF8" stroke="#8a8a8a" stroke-width="0.8"/><ellipse cx="1284.6" cy="1137.7" rx="19" ry="11.5" fill="#fff" stroke="#8a8a8a" stroke-width="1"/><ellipse cx="1284.6" cy="1137.7" rx="16.4" ry="8.9" fill="none" stroke="#8a8a8a" stroke-width="1"/><path d="M-15,-20q0,-4 3.5,-4q3.5,0 3.5,4q0,8 8,8q8,0 8,-8q0,-4 3.5,-4q3.5,0 3.5,4q0,14 -9,18v18q0,5 -6,5q-6,0 -6,-5v-18q-9,-4 -9,-18z" transform="translate(1376.6 1142.7) scale(1.3 0.91)" fill="#AEB9F6" stroke="#8a8a8a" stroke-width="0.8"/><ellipse cx="1455.4" cy="1140.7" rx="19" ry="11.5" fill="#A6B1F5" stroke="#8a8a8a" stroke-width="1"/><ellipse cx="1455.4" cy="1140.7" rx="16.4" ry="8.9" fill="none" stroke="#8a8a8a" stroke-width="1"/><ellipse cx="1242.1" cy="1154.6" rx="19" ry="11.5" fill="#fff" stroke="#8a8a8a" stroke-width="1"/><ellipse cx="1242.1" cy="1154.6" rx="16.4" ry="8.9" fill="none" stroke="#8a8a8a" stroke-width="1"/><ellipse cx="1640.2" cy="1163.2" rx="19" ry="10.5" fill="#A0ACF4" stroke="#8a8a8a" stroke-width="0.8"/><path d="M-15,-20q0,-4 3.5,-4q3.5,0 3.5,4q0,8 8,8q8,0 8,-8q0,-4 3.5,-4q3.5,0 3.5,4q0,14 -9,18v18q0,5 -6,5q-6,0 -6,-5v-18q-9,-4 -9,-18z" transform="translate(1577.5 1181) scale(1.3 0.91)" fill="#AEB9F6" stroke="#8a8a8a" stroke-width="0.8"/><path d="M-28,0C-28,-12 -12,-14 0,-8C12,-14 28,-12 28,0C28,12 12,14 0,8C-12,14 -28,12 -28,0Z" transform="translate(1441.2 1186.5) scale(0.97)" fill="#AEB9F6" stroke="#8a8a8a" stroke-width="0.9"/><ellipse cx="1520" cy="1193.3" rx="19" ry="11" fill="#AEB9F6" stroke="#8a8a8a" stroke-width="0.8"/><path d="M-19,-3q-3,-7 5,-9q6,-2 9,3q7,-2 15,-1q9,1 9,8q0,8 -9,9q-11,1 -21,0q-8,-1 -8,-6z" transform="translate(1302.2 1200.2) scale(1.0)" fill="#C5CBF8" stroke="#8a8a8a" stroke-width="0.9"/><text transform="translate(1450.9 767.1) scale(1.13 1)" font-size="12.7" font-weight="bold" text-anchor="middle">SAMD9</text><text transform="translate(1364.6 792.7) scale(1.13 1)" font-size="12.7" font-weight="bold" text-anchor="middle">Interferon alpha</text><text transform="translate(1545.6 792.7) scale(1.13 1)" font-size="12.7" font-weight="bold" text-anchor="middle">HERPUD1</text><text transform="translate(1606.4 843) scale(1.13 1)" font-size="12.7" font-weight="bold" text-anchor="middle">IFI16</text><text transform="translate(1683.4 857.3) scale(1.13 1)" font-size="12.7" font-weight="bold" text-anchor="middle">HLA-DQB1</text><text transform="translate(1213.2 879.4) scale(1.13 1)" font-size="12.7" font-weight="bold" text-anchor="middle">GBP1</text><text transform="translate(1310.9 886.9) scale(1.13 1)" font-size="12.7" font-weight="bold" text-anchor="middle">DUSP6</text><text transform="translate(1458.4 889.9) scale(1.13 1)" font-size="12.7" font-weight="bold" text-anchor="middle">NFKBIA</text><text transform="translate(1528.7 874.2) scale(1.13 1)" font-size="12.7" font-weight="bold" text-anchor="middle">OAS1</text><text transform="translate(1601.1 893.7) scale(1.13 1)" font-size="12.7" font-weight="bold" text-anchor="middle">Immunoglobulin</text><text transform="translate(1692 919.2) scale(1.13 1)" font-size="12.7" font-weight="bold" text-anchor="middle">HLA-B</text><text transform="translate(1369.8 915.5) scale(1.13 1)" font-size="12.7" font-weight="bold" text-anchor="middle">MAP2K1/2</text><text transform="translate(1225.6 953) scale(1.13 1)" font-size="12.7" font-weight="bold" text-anchor="middle">HIPK1</text><text transform="translate(1309.7 966.9) scale(1.13 1)" font-size="12.7" font-weight="bold" text-anchor="middle">A2M</text><text transform="translate(1557.9 954.5) scale(1.13 1)" font-size="12.7" font-weight="bold" text-anchor="middle">IFN Beta</text><text transform="translate(1666.8 974.4) scale(1.13 1)" font-size="12.7" font-weight="bold" text-anchor="middle">LDL</text><text transform="translate(1240.6 1009) scale(1.13 1)" font-size="12.7" font-weight="bold" text-anchor="middle">P38 MAPK</text><text transform="translate(1348.4 1004.5) scale(1.13 1)" font-size="12.7" font-weight="bold" text-anchor="middle">CG</text><text transform="translate(1434.8 996.9) scale(1.13 1)" font-size="12.7" font-weight="bold" text-anchor="middle">TCR</text><text transform="translate(1530.5 1021.4) scale(1.13 1)" font-size="12.7" font-weight="bold" text-anchor="middle">PI3K (complex)</text><text transform="translate(1703.3 1015) scale(1.13 1)" font-size="12.7" font-weight="bold" text-anchor="middle">GLB1</text><text transform="translate(1665.7 1054.4) scale(1.13 1)" font-size="12.7" font-weight="bold" text-anchor="middle">TNS1</text><text transform="translate(1375.8 1061.9) scale(1.13 1)" font-size="12.7" font-weight="bold" text-anchor="middle">Creb</text><text transform="translate(1179.4 1082.2) scale(1.13 1)" font-size="12.7" font-weight="bold" text-anchor="middle">ULBP2</text><text transform="translate(1532.4 1092.7) scale(1.13 1)" font-size="12.7" font-weight="bold" text-anchor="middle">NFkB (complex)</text><text transform="translate(1663.1 1133.3) scale(1.13 1)" font-size="12.7" font-weight="bold" text-anchor="middle">FCGR2A</text><text transform="translate(1284.6 1142.3) scale(1.13 1)" font-size="12.7" font-weight="bold" text-anchor="middle">Pkc(s)</text><text transform="translate(1376.6 1145.3) scale(1.13 1)" font-size="12.7" font-weight="bold" text-anchor="middle">CD247</text><text transform="translate(1455.4 1145.3) scale(1.13 1)" font-size="12.7" font-weight="bold" text-anchor="middle">CD3</text><text transform="translate(1242.1 1159.2) scale(1.13 1)" font-size="12.7" font-weight="bold" text-anchor="middle">IL12 (family)</text><text transform="translate(1640.2 1167.8) scale(1.13 1)" font-size="12.7" font-weight="bold" text-anchor="middle">TIMP3</text><text transform="translate(1577.5 1183.6) scale(1.13 1)" font-size="12.7" font-weight="bold" text-anchor="middle">CD74</text><text transform="translate(1441.2 1191.1) scale(1.13 1)" font-size="12.7" font-weight="bold" text-anchor="middle">NFKBIZ</text><text transform="translate(1520 1197.8) scale(1.13 1)" font-size="12.7" font-weight="bold" text-anchor="middle">BNIP2</text><text transform="translate(1302.2 1202.7) scale(1.13 1)" font-size="12.7" font-weight="bold" text-anchor="middle">PTPN22</text><path d="M1149.6 39.4H1736V1242.8H1149.6ZM1149.6 643H1736" fill="none" stroke="#000" stroke-width="2.6"/><text x="1441.5" y="72.4" font-size="25.75" font-weight="bold" text-anchor="middle">Cancer, hematological disease, organismal</text><text x="1445.5" y="104" font-size="25.75" font-weight="bold" text-anchor="middle">injury and abnormalities (concordant genes)</text><text x="1722.5" y="626" font-size="25.5" font-weight="bold" text-anchor="end">Score: 41</text><text x="1440.7" y="671" font-size="25.75" font-weight="bold" text-anchor="middle">Connective tissue disorders, immunological</text><text x="1440.8" y="702.7" font-size="25.75" font-weight="bold" text-anchor="middle">disease,inflammatory disease</text><text x="1444.7" y="734.2" font-size="25.75" font-weight="bold" text-anchor="middle">(discordant genes)</text><text x="1724.5" y="1222.6" font-size="25.5" font-weight="bold" text-anchor="end">Score: 36</text><rect x="1743.5" y="40.4" width="168" height="222" fill="#fff" stroke="#222" stroke-width="1" stroke-dasharray="5 2 1 2"/><text x="1825.2" y="52.8" font-size="11.8" font-weight="bold" text-anchor="middle">Legend</text><path d="M0.5,-7C-2.5,-7.3 -4,-5 -3.5,-3.3C-3.2,-2.3 -2.3,-2 -1.5,-2.2C-2.5,-1 -2,0.5 -0.5,0.8C-1.8,2 -2.5,4 -1.5,5.5C-0.5,6.8 2,7.2 3.5,6.5L3.3,5.6C2,6 0.5,5.6 0,4.8C-0.5,3.8 0.3,2.3 1.5,1.5C3,0.5 4.3,-1 3.8,-2.5C3.5,-3.4 2.8,-3.8 2.3,-3.8C3,-5 2.5,-6.8 0.5,-7ZM-1.5,-4.6C-1.3,-5.6 0.6,-5.6 0.6,-4.4C0.6,-3.6 -0.3,-3.4 -0.8,-3.6" transform="translate(1761.5 64.4)" fill="none" stroke="#808080" stroke-width="1.1"/><text x="1780.3" y="67.4" font-size="10.7">Enzyme</text><circle cx="1761.5" cy="83.1" r="7.3" fill="none" stroke="#808080" stroke-width="1"/><circle cx="1761.5" cy="83.1" r="5.7" fill="none" stroke="#808080" stroke-width="1"/><text x="1780.3" y="86.4" font-size="10.7">Group/Complex</text><path d="M0,-3C-0.5,-5.5 -2,-7.3 -4.3,-7.3C-6.5,-7.3 -7.5,-5.6 -7.5,-4.2C-7.5,-2.5 -6,-1.2 -4.5,-1.2C-3.5,-1.2 -2.8,-0.5 -2.6,0.5C-2.5,1.5 -3.4,2.8 -3.4,3.8C-3.4,4.8 -1,7.3 0,7.3C1,7.3 3.4,4.8 3.4,3.8C3.4,2.8 2.5,1.5 2.6,0.5C2.8,-0.5 3.5,-1.2 4.5,-1.2C6,-1.2 7.5,-2.5 7.5,-4.2C7.5,-5.6 6.5,-7.3 4.3,-7.3C2,-7.3 0.5,-5.5 0,-3Z" transform="translate(1761.5 101.3)" fill="none" stroke="#808080" stroke-width="1.1"/><text x="1780.3" y="105" font-size="10.7">Kinase</text><path d="M-7.5,0C-5,-3.5 -1,-6.7 2.5,-6.7C5.5,-6.7 7.3,-4.5 7.3,-2.3L5.2,-2C4.8,-3.6 3.5,-4.4 2,-4.4C-0.5,-4.4 -2.2,-2.5 -2.2,0C-2.2,2.5 -0.5,4.4 2,4.4C3.5,4.4 4.8,3.6 5.2,2L7.3,2.3C7.3,4.5 5.5,6.7 2.5,6.7C-1,6.7 -5,3.5 -7.5,0Z" transform="translate(1761.5 119.8)" fill="none" stroke="#808080" stroke-width="1.1"/><text x="1780.3" y="123.8" font-size="10.7">Peptidase</text><path d="M-4.5,-1.5C-6.5,-1.5 -7.5,-3 -7.5,-4.5C-7.5,-6 -6,-7.2 -4.5,-7.2C-3,-7.2 -2,-6.3 -1.8,-5C0,-5 3,-5.2 5,-4.8C7,-4.3 7.5,-2.5 7.5,0C7.5,3 7.3,5.5 5.5,6.5C3.5,7.4 -1.5,7.4 -3,6.5C-4.8,5.5 -4.5,2 -4.5,-1.5Z" transform="translate(1761.5 139.3)" fill="none" stroke="#808080" stroke-width="1.1"/><text x="1780.3" y="142.6" font-size="10.7">Phosphatase</text><path d="M-7.5,-2C-7.5,-5.5 -5.5,-7 -3.8,-7C-2.2,-7 -1.3,-4 0,-4C1.3,-4 2.2,-7 3.8,-7C5.5,-7 7.5,-5.5 7.5,-2L7.5,2C7.5,5.5 5.5,7 3.8,7C2.2,7 1.3,4 0,4C-1.3,4 -2.2,7 -3.8,7C-5.5,7 -7.5,5.5 -7.5,2Z" transform="translate(1761.5 157.8)" fill="none" stroke="#808080" stroke-width="1.1"/><text x="1780.3" y="161.2" font-size="10.7">Transcription Regulator</text><path d="M-6,-5.5C-6,-7.5 -3.6,-7.5 -3.4,-5.5C-3.2,-3.5 -1.5,-2.2 0,-2.2C1.5,-2.2 3.2,-3.5 3.4,-5.5C3.6,-7.5 6,-7.5 6,-5.5C6,-2.5 3.5,-0.5 1.7,0.3L1.7,5.5C1.7,7.8 -1.7,7.8 -1.7,5.5L-1.7,0.3C-3.5,-0.5 -6,-2.5 -6,-5.5Z" transform="translate(1761.5 176.3)" fill="none" stroke="#808080" stroke-width="1.1"/><text x="1780.3" y="180" font-size="10.7">Transmembrane Receptor</text><path d="M-7,-5.8C-7,-7.6 7,-7.6 7,-5.8C7,-5 6,-4.5 5.4,-3.8C5,-1 4.8,2 4.3,4C3.8,6.3 2,7.3 0,7.3C-2,7.3 -3.8,6.3 -4.3,4C-4.8,2 -5,-1 -5.4,-3.8C-6,-4.5 -7,-5 -7,-5.8ZM-3.6,-5.1L3.6,-5.1" transform="translate(1761.5 195.2)" fill="none" stroke="#808080" stroke-width="1.1"/><text x="1780.3" y="198.6" font-size="10.7">Transporter</text><circle cx="1761.5" cy="214.2" r="7.2" fill="none" stroke="#808080" stroke-width="1.1"/><text x="1780.3" y="217.4" font-size="10.7">Other</text><path d="M1754.2 232.2H1773" stroke="#222" stroke-width="1.4"/><text x="1776.5" y="235.4" font-size="10.7">Direct Interaction</text><path d="M1754.2 249.6H1773" stroke="#222" stroke-width="1.4" stroke-dasharray="8 3.5"/><text x="1776.5" y="252.4" font-size="10.7">Indirect Interactions</text></g>
<g id="heatL"><text x="73.5" y="959.2" font-size="26.65" font-weight="bold">Down BA vs WA</text><rect x="162" y="1047.9" width="43.4" height="862.8" fill="#FFFF00"/><rect x="162" y="1630.3" width="43.4" height="21.6" fill="#FFFFC4"/><rect x="119.1" y="1047.9" width="43.2" height="324.6" fill="#0000CD"/><rect x="119.1" y="1371.5" width="43.2" height="22.6" fill="#0C0CCE"/><rect x="119.1" y="1393" width="43.2" height="22.6" fill="#2323D2"/><rect x="119.1" y="1414.6" width="43.2" height="22.6" fill="#2626D3"/><rect x="119.1" y="1436.2" width="43.2" height="22.6" fill="#2828D3"/><rect x="119.1" y="1457.7" width="43.2" height="22.6" fill="#4444D8"/><rect x="119.1" y="1479.3" width="43.2" height="22.6" fill="#4848D9"/><rect x="119.1" y="1500.9" width="43.2" height="22.6" fill="#4C4CDA"/><rect x="119.1" y="1522.4" width="43.2" height="22.6" fill="#5858DC"/><rect x="119.1" y="1544" width="43.2" height="22.6" fill="#5C5CDD"/><rect x="119.1" y="1565.6" width="43.2" height="22.6" fill="#6060DE"/><rect x="119.1" y="1587.2" width="43.2" height="22.6" fill="#6363DE"/><rect x="119.1" y="1608.7" width="43.2" height="22.6" fill="#6767DF"/><rect x="119.1" y="1630.3" width="43.2" height="22.6" fill="#6C6CE0"/><rect x="119.1" y="1651.9" width="43.2" height="22.6" fill="#7373E2"/><rect x="119.1" y="1673.4" width="43.2" height="22.6" fill="#7676E2"/><rect x="119.1" y="1695" width="43.2" height="22.6" fill="#7A7AE3"/><rect x="119.1" y="1716.6" width="43.2" height="22.6" fill="#7F7FE4"/><rect x="119.1" y="1738.1" width="43.2" height="22.6" fill="#8383E5"/><rect x="119.1" y="1759.7" width="43.2" height="22.6" fill="#8888E6"/><rect x="119.1" y="1781.3" width="43.2" height="22.6" fill="#8B8BE7"/><rect x="119.1" y="1802.9" width="43.2" height="22.6" fill="#8F8FE8"/><rect x="119.1" y="1824.4" width="43.2" height="22.6" fill="#9292E8"/><rect x="119.1" y="1846" width="43.2" height="22.6" fill="#9595E9"/><rect x="119.1" y="1867.6" width="43.2" height="22.6" fill="#9A9AEA"/><rect x="119.1" y="1889.1" width="43.2" height="21.6" fill="#A0A0EC"/><g transform="translate(231.9 0) scale(0.9815 1)" font-size="21.65" fill="#000" stroke="#fff" stroke-width="0.22"><text y="1068.1">EIF2</text><text y="1089.7">Actin Cytoskeleton</text><text y="1111.2">ILK</text><text y="1132.8">Coronavirus Pathogenesis</text><text y="1154.4">Apelin Liver</text><text y="1176">Regulation of eIF4 and p70S6K</text><text y="1197.5">Intrinsic Prothrombin Activation</text><text y="1219.1">Hepatic Fibrosis/Hepatic Stellate Cell Activation</text><text y="1240.7">FAK</text><text y="1262.2">Integrin</text><text y="1283.8">Natural Killer Cell</text><text y="1305.4">Epithelial Adherens Junction</text><text y="1326.9">Prostate Cancer</text><text y="1348.5">Phagosome Maturation</text><text y="1370.1">Remodeling of Epithelial Adherens Junctions</text><text y="1391.7">Dendritic Cell Maturation</text><text y="1413.2">VEGF</text><text y="1434.8">Glucocorticoid Receptor</text><text y="1456.4">Germ Cell-Sertoli Cell Junction</text><text y="1477.9">mTOR</text><text y="1499.5">Polyamine Regulation in Colon Cancer</text><text y="1521.1">Huntington's Disease</text><text y="1542.6">RhoGDI</text><text y="1564.2">Ephrin Receptor</text><text y="1585.8">RhoA</text><text y="1607.4">Mitochondrial Dysfunction</text><text y="1628.9">Neuroprotective Role of THOP1 in Alzheimer's Disease</text><text y="1650.5">Calcium</text><text y="1672.1">Gluconeogenesis I</text><text y="1693.6">Hepatic Fibrosis</text><text y="1715.2">Hypoxia in the Cardiovascular System</text><text y="1736.8">Caveolar-mediated Endocytosis</text><text y="1758.3">Protein Kinase A</text><text y="1779.9">PPAR</text><text y="1801.5">Regulation of Actin-based Motility by Rho</text><text y="1823.1">Antigen Presentation</text><text y="1844.6">NFAT in the Regulation of the Immune Response</text><text y="1866.2">Neurotrophin/TRK</text><text y="1887.8">FAT10</text><text y="1909.3">B Cell Receptor</text></g><text x="135.7" y="1044.8" font-size="18.6" font-weight="bold" transform="rotate(-90 135.7 1044.8)">TAS</text><text x="157.3" y="1042.3" font-size="19" transform="rotate(-90 157.3 1042.3)">(n=1210)</text><text x="180.5" y="1043.6" font-size="19" font-weight="bold" transform="rotate(-90 180.5 1043.6)">Tumor</text><text x="202.2" y="1042.3" font-size="19" transform="rotate(-90 202.2 1042.3)">(n=826)</text><rect x="119.1" y="1926" width="86.2" height="20" fill="url(#cb)"/><text x="119.3" y="1964.8" font-size="18.7" font-weight="bold" text-anchor="middle">1.0</text><text x="203.9" y="1965.5" font-size="18.7" font-weight="bold" text-anchor="middle">3.0</text></g>
<g id="heatR"><text x="831.5" y="1435.9" font-size="26.7" font-weight="bold">Up BA vs WA</text><rect x="867.2" y="1538.1" width="45.9" height="23.9" fill="#3434D5"/><rect x="867.2" y="1561" width="45.9" height="23.9" fill="#7D7DE1"/><rect x="867.2" y="1583.9" width="45.9" height="23.9" fill="#B2B2EE"/><rect x="867.2" y="1606.7" width="45.9" height="23.9" fill="#BFBFF2"/><rect x="867.2" y="1629.6" width="45.9" height="23.9" fill="#EFEFFC"/><rect x="867.2" y="1652.5" width="45.9" height="23.9" fill="#F6F6FD"/><rect x="867.2" y="1675.4" width="45.9" height="23.9" fill="#F7F7FD"/><rect x="867.2" y="1698.3" width="45.9" height="23.9" fill="#F9F9FE"/><rect x="867.2" y="1721.1" width="45.9" height="23.9" fill="#FFFFDC"/><rect x="867.2" y="1744" width="45.9" height="23.9" fill="#FFFFC0"/><rect x="867.2" y="1766.9" width="45.9" height="23.9" fill="#FFFFBA"/><rect x="867.2" y="1789.8" width="45.9" height="23.9" fill="#FFFFB0"/><rect x="867.2" y="1812.7" width="45.9" height="23.9" fill="#FFFFAE"/><rect x="867.2" y="1835.5" width="45.9" height="22.9" fill="#FFFFAC"/><rect x="912.8" y="1538.1" width="45.8" height="23.9" fill="#FFFFF6"/><rect x="912.8" y="1561" width="45.8" height="206.9" fill="#FFFF00"/><rect x="912.8" y="1766.9" width="45.8" height="23.9" fill="#FFFFAE"/><rect x="912.8" y="1789.8" width="45.8" height="68.6" fill="#FFFF00"/><g transform="translate(986.5 0) scale(0.9714 1)" font-size="22.7" fill="#000" stroke="#fff" stroke-width="0.22"><text y="1559.1">Hypercytokinemia/hyperchemokinemia in the Pathogenesis of Influenza</text><text y="1582">PI3K/AKT in the Pathogenesis of Influenza</text><text y="1604.9">BMP</text><text y="1627.7">IL-12 &amp; Production in Macrophages</text><text y="1650.6">Retinol Biosynthesis</text><text y="1673.5">UVB-Induced MAPK</text><text y="1696.4">Cytokines in Mediating Communication between Immune Cells</text><text y="1719.3">Triacylglycerol Degradation</text><text y="1742.1">SPINK1 Pancreatic Cancer</text><text y="1765">Androgen</text><text y="1787.9">eNOS</text><text y="1810.8">Xanthine and Xanthosine Salvage</text><text y="1833.7">Sulfite Oxidation IV</text><text y="1856.5">Glucocorticoid Receptor</text></g><text x="885.4" y="1534.5" font-size="18.6" font-weight="bold" transform="rotate(-90 885.4 1534.5)">TAS</text><text x="907.4" y="1532.8" font-size="19" transform="rotate(-90 907.4 1532.8)">(n=1290)</text><text x="929.5" y="1532.8" font-size="19" font-weight="bold" transform="rotate(-90 929.5 1532.8)">Tumor</text><text x="950.8" y="1531.3" font-size="19" transform="rotate(-90 950.8 1531.3)">(n=1674)</text><rect x="869.1" y="1871.2" width="86.5" height="19.9" fill="url(#cb)"/><text x="871.6" y="1909.3" font-size="18.7" font-weight="bold" text-anchor="middle">1.0</text><text x="956.3" y="1910.4" font-size="18.7" font-weight="bold" text-anchor="middle">3.0</text></g>
<g id="panelE"><rect x="76.5" y="2071.5" width="89.5" height="609.5" fill="#EEEEEE"/><text x="98.6" y="2380.5" font-size="20.3" text-anchor="middle" fill="#333" transform="rotate(-90 98.6 2380.5)">Relative Percent</text><text x="146.8" y="2672" font-size="13.4" text-anchor="end" fill="#222">0%</text><text x="146.8" y="2614.6" font-size="13.4" text-anchor="end" fill="#222">10%</text><text x="146.8" y="2557.1" font-size="13.4" text-anchor="end" fill="#222">20%</text><text x="146.8" y="2499.7" font-size="13.4" text-anchor="end" fill="#222">30%</text><text x="146.8" y="2442.3" font-size="13.4" text-anchor="end" fill="#222">40%</text><text x="146.8" y="2384.8" font-size="13.4" text-anchor="end" fill="#222">50%</text><text x="146.8" y="2327.4" font-size="13.4" text-anchor="end" fill="#222">60%</text><text x="146.8" y="2270" font-size="13.4" text-anchor="end" fill="#222">70%</text><text x="146.8" y="2212.6" font-size="13.4" text-anchor="end" fill="#222">80%</text><text x="146.8" y="2155.1" font-size="13.4" text-anchor="end" fill="#222">90%</text><text x="146.8" y="2097.7" font-size="13.4" text-anchor="end" fill="#222">100%</text><path d="M161.3 2092.6V2668M153.3 2667.3H161.3M153.3 2609.9H161.3M153.3 2552.4H161.3M153.3 2495H161.3M153.3 2437.6H161.3M153.3 2380.2H161.3M153.3 2322.7H161.3M153.3 2265.3H161.3M153.3 2207.9H161.3M153.3 2150.4H161.3M153.3 2093H161.3" stroke="#333" stroke-width="1.8" fill="none"/><rect x="211.9" y="2079.5" width="67.4" height="590.2" fill="#EFEFEF"/><rect x="211.9" y="2085.6" width="31" height="60.7" fill="#8B8D89"/><rect x="211.9" y="2145.7" width="31" height="23.9" fill="#A40000"/><rect x="211.9" y="2169" width="31" height="59.7" fill="#75507B"/><rect x="211.9" y="2228.1" width="31" height="116.9" fill="#AD7FA8"/><rect x="211.9" y="2344.4" width="31" height="123.2" fill="#729FCF"/><rect x="211.9" y="2467" width="31" height="6.9" fill="#73D216"/><rect x="211.9" y="2473.3" width="31" height="14.7" fill="#C17D11"/><rect x="211.9" y="2487.3" width="31" height="92.7" fill="#CE5C00"/><rect x="211.9" y="2579.4" width="31" height="62.6" fill="#FCAF3E"/><rect x="211.9" y="2641.4" width="31" height="21.4" fill="#C4A000"/><rect x="246.2" y="2085.6" width="31.4" height="46.1" fill="#C3C5BF"/><rect x="246.2" y="2131.2" width="31.4" height="6.9" fill="#A40000"/><rect x="246.2" y="2137.5" width="31.4" height="43.2" fill="#75507B"/><rect x="246.2" y="2180.1" width="31.4" height="78.6" fill="#AD7FA8"/><rect x="246.2" y="2258.1" width="31.4" height="114" fill="#729FCF"/><rect x="246.2" y="2371.5" width="31.4" height="70.4" fill="#73D216"/><rect x="246.2" y="2441.3" width="31.4" height="36" fill="#CE5C00"/><rect x="246.2" y="2476.7" width="31.4" height="34.5" fill="#FCAF3E"/><rect x="246.2" y="2510.6" width="31.4" height="36" fill="#C4A000"/><rect x="246.2" y="2545.9" width="31.4" height="116.9" fill="#FCE94F"/><rect x="326" y="2078" width="68.5" height="590.5" fill="#EFEFEF"/><rect x="326" y="2077.9" width="30.8" height="4.5" fill="#8B8D89"/><rect x="326" y="2081.8" width="30.8" height="122.7" fill="#C3C5BF"/><rect x="326" y="2203.9" width="30.8" height="136.3" fill="#EEEEEC"/><rect x="326" y="2339.5" width="30.8" height="36.9" fill="#75507B"/><rect x="326" y="2375.9" width="30.8" height="15.1" fill="#AD7FA8"/><rect x="326" y="2390.4" width="30.8" height="24.8" fill="#204A87"/><rect x="326" y="2414.6" width="30.8" height="86.8" fill="#8AE234"/><rect x="326" y="2500.9" width="30.8" height="108.2" fill="#E9B96E"/><rect x="326" y="2608.5" width="30.8" height="44.2" fill="#FCAF3E"/><rect x="326" y="2652.1" width="30.8" height="5.9" fill="#EDD400"/><rect x="360" y="2077.9" width="33.9" height="63.6" fill="#C3C5BF"/><rect x="360" y="2140.9" width="33.9" height="210.4" fill="#EEEEEC"/><rect x="360" y="2350.7" width="33.9" height="24.8" fill="#CC0000"/><rect x="360" y="2374.9" width="33.9" height="14.2" fill="#75507B"/><rect x="360" y="2388.5" width="33.9" height="13.7" fill="#AD7FA8"/><rect x="360" y="2401.6" width="33.9" height="33.1" fill="#204A87"/><rect x="360" y="2434" width="33.9" height="7.9" fill="#8AE234"/><rect x="360" y="2441.3" width="33.9" height="49.5" fill="#C17D11"/><rect x="360" y="2490.2" width="33.9" height="97" fill="#E9B96E"/><rect x="360" y="2586.6" width="33.9" height="38.4" fill="#FCAF3E"/><rect x="360" y="2624.4" width="33.9" height="6.4" fill="#C4A000"/><rect x="360" y="2630.3" width="33.9" height="27.7" fill="#EDD400"/><path d="M227.2 2661.5V2669.7M262.3 2661.5V2669.7M340.3 2658V2668M377.4 2658V2668" stroke="#333" stroke-width="1.4"/><rect x="187" y="2019.7" width="110" height="690.4" fill="none" stroke="#000" stroke-width="3"/><rect x="312.3" y="2019.7" width="110.8" height="690.4" fill="none" stroke="#000" stroke-width="3"/><text x="245.3" y="2063.5" font-size="34" font-weight="bold" text-anchor="middle" class="sf">TAS</text><text x="367.1" y="2061.8" font-size="33.8" font-weight="bold" text-anchor="middle" class="sf">Tumor</text><text x="455.5" y="2051" font-size="33.7" font-weight="bold" class="sf">22 immune cell type</text><text x="246.3" y="2672.5" font-size="20" font-weight="bold" text-anchor="end" class="sf" transform="rotate(-90 246.3 2672.5)">BA</text><text x="271.6" y="2672.5" font-size="20" font-weight="bold" text-anchor="end" class="sf" transform="rotate(-90 271.6 2672.5)">WA</text><text x="355.8" y="2672.5" font-size="20" font-weight="bold" text-anchor="end" class="sf" transform="rotate(-90 355.8 2672.5)">BA</text><text x="381.3" y="2672.5" font-size="20" font-weight="bold" text-anchor="end" class="sf" transform="rotate(-90 381.3 2672.5)">WA</text><rect x="443" y="2076" width="274.4" height="604.5" fill="#EEEEEE"/><rect x="444.4" y="2083" width="32.6" height="26.4" fill="#2E3436"/><text x="497.6" y="2101.3" font-size="14.25" fill="#202020">Neutrophils</text><rect x="444.4" y="2109.1" width="32.6" height="26.4" fill="#888A85"/><text x="497.6" y="2127.4" font-size="14.25" fill="#202020">Eosinophils</text><rect x="444.4" y="2135.2" width="32.6" height="26.4" fill="#C6C8C2"/><text x="497.6" y="2153.5" font-size="14.25" fill="#202020">Mast cells activated</text><rect x="444.4" y="2161.4" width="32.6" height="26.4" fill="#BDBFB9"/><text x="497.6" y="2179.6" font-size="14.25" fill="#202020">Mast cells resting</text><rect x="444.4" y="2187.5" width="32.6" height="26.4" fill="#EFEFED"/><text x="497.6" y="2205.7" font-size="14.25" fill="#202020">Dendritic cells activated</text><rect x="444.4" y="2213.6" width="32.6" height="26.4" fill="#A40000"/><text x="497.6" y="2231.9" font-size="14.25" fill="#202020">Dendritic cells resting</text><rect x="444.4" y="2239.7" width="32.6" height="26.4" fill="#CC0000"/><text x="497.6" y="2258" font-size="14.25" fill="#202020">Macrophages M2</text><rect x="444.4" y="2265.8" width="32.6" height="26.4" fill="#EF3535"/><text x="497.6" y="2284.1" font-size="14.25" fill="#202020">Macrophages M1</text><rect x="444.4" y="2292" width="32.6" height="26.4" fill="#75507B"/><text x="497.6" y="2310.2" font-size="14.25" fill="#202020">Macrophages M0</text><rect x="444.4" y="2318.1" width="32.6" height="26.4" fill="#AD7FA8"/><text x="497.6" y="2336.3" font-size="14.25" fill="#202020">Monocytes</text><rect x="444.4" y="2344.2" width="32.6" height="26.4" fill="#204A87"/><text x="497.6" y="2362.5" font-size="14.25" fill="#202020">NK cells activated</text><rect x="444.4" y="2370.3" width="32.6" height="26.4" fill="#729FCF"/><text x="497.6" y="2388.6" font-size="14.25" fill="#202020">NK cells resting</text><rect x="444.4" y="2396.4" width="32.6" height="26.4" fill="#4E9A06"/><text x="497.6" y="2414.7" font-size="14.25" fill="#202020">T cells gamma delta</text><rect x="444.4" y="2422.6" width="32.6" height="26.4" fill="#73D216"/><text x="497.6" y="2440.8" font-size="14.25" fill="#202020">T cells regulatory (Tregs)</text><rect x="444.4" y="2448.7" width="32.6" height="26.4" fill="#8AE234"/><text x="497.6" y="2466.9" font-size="14.25" fill="#202020">T cells follicular helper</text><rect x="444.4" y="2474.8" width="32.6" height="26.4" fill="#C17D11"/><text x="497.6" y="2493.1" font-size="14.25" fill="#202020">T cells CD4 memory activated</text><rect x="444.4" y="2500.9" width="32.6" height="26.4" fill="#E9B96E"/><text x="497.6" y="2519.2" font-size="14.25" fill="#202020">T cells CD4 memory resting</text><rect x="444.4" y="2527" width="32.6" height="26.4" fill="#CE5C00"/><text x="497.6" y="2545.3" font-size="14.25" fill="#202020">T cells CD4 naive</text><rect x="444.4" y="2553.2" width="32.6" height="26.4" fill="#FCAF3E"/><text x="497.6" y="2571.4" font-size="14.25" fill="#202020">T cells CD8</text><rect x="444.4" y="2579.3" width="32.6" height="26.4" fill="#C4A000"/><text x="497.6" y="2597.5" font-size="14.25" fill="#202020">Plasma cells</text><rect x="444.4" y="2605.4" width="32.6" height="26.4" fill="#EDD400"/><text x="497.6" y="2623.7" font-size="14.25" fill="#202020">B cells memory</text><rect x="444.4" y="2631.5" width="32.6" height="26.4" fill="#FCE94F"/><text x="497.6" y="2649.8" font-size="14.25" fill="#202020">B cells naive</text><path d="M471 2095.7H492.4M471 2121.8H492.4M471 2147.9H492.4M471 2174H492.4M471 2200.1H492.4M471 2226.3H492.4M471 2252.4H492.4M471 2278.5H492.4M471 2304.6H492.4M471 2330.7H492.4M471 2356.9H492.4M471 2383H492.4M471 2409.1H492.4M471 2435.2H492.4M471 2461.3H492.4M471 2487.5H492.4M471 2513.6H492.4M471 2539.7H492.4M471 2565.8H492.4M471 2591.9H492.4M471 2618.1H492.4M471 2644.2H492.4M460.3 2658.5V2667.5" stroke="#444" stroke-width="1.5" fill="none"/><text x="462.3" y="2673.5" font-size="28.5" font-weight="bold" text-anchor="end" class="sf" transform="rotate(-90 462.3 2673.5)">Key</text></g>
</svg>
</body></html>
